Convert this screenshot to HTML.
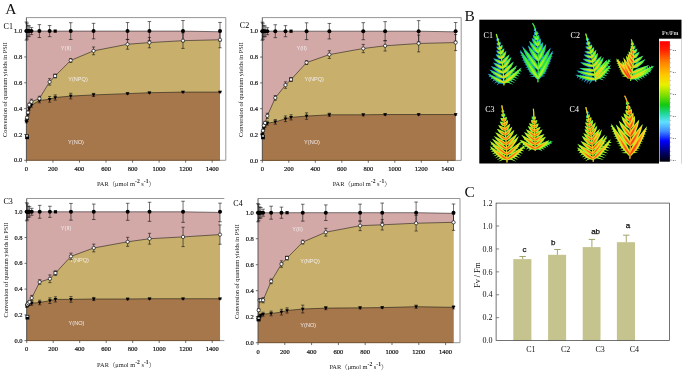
<!DOCTYPE html>
<html><head><meta charset="utf-8"><title>Figure</title>
<style>html,body{margin:0;padding:0;background:#fff}svg{display:block}</style></head>
<body>
<svg width="685" height="375" viewBox="0 0 685 375">
<rect width="685" height="375" fill="#fff"/>
<polygon points="26.4,160.3 26.4,31.1 27.06,31.1 27.99,31.1 29.19,31.1 31.44,31.1 39.4,31.1 49.62,31.1 55.2,31.1 70.72,31.1 93.55,31.1 127.52,31.1 149.41,31.1 182.99,31.1 220.01,31.75 220.01,160.3" fill="#d3a9a8"/>
<polygon points="26.4,160.3 26.4,120.25 27.06,117.66 27.99,112.5 29.19,104.74 31.44,101.77 39.4,98.54 49.62,81.88 55.2,75.93 70.72,60.43 93.55,50.87 127.52,44.28 149.41,42.6 182.99,40.66 220.01,39.76 220.01,160.3" fill="#c8b06c"/>
<polygon points="26.4,160.3 26.4,121.54 27.06,120.25 27.99,113.79 29.19,108.62 31.44,105.26 39.4,100.48 49.62,99.32 55.2,97.51 70.72,96.09 93.55,94.92 127.52,93.63 149.41,92.73 182.99,92.08 220.01,92.08 220.01,160.3" fill="#a5774b"/>
<path d="M26.4 17.6H225.8V160.3H220.01" fill="none" stroke="#8a8a8a" stroke-width="0.9"/>
<path d="M26.4 17.6V160.3" stroke="#4a4a4a" stroke-width="0.9" fill="none"/>
<path d="M26.4 160.3H220.01" stroke="#6b4a2c" stroke-width="0.9" fill="none"/>
<path d="M24.2 160.3H26.4M24.2 134.46H26.4M24.2 108.62H26.4M24.2 82.78H26.4M24.2 56.94H26.4M24.2 31.1H26.4M26.4 160.3V162.7M52.94 160.3V162.7M79.48 160.3V162.7M106.02 160.3V162.7M132.56 160.3V162.7M159.1 160.3V162.7M185.64 160.3V162.7M212.18 160.3V162.7" stroke="#333" stroke-width="0.7" fill="none"/>
<g font-family='"Liberation Serif","Noto Serif CJK SC",serif' font-size="6.5" fill="#1a1a1a" stroke="#1a1a1a" stroke-width="0.22">
<text x="22.2" y="162.4" text-anchor="end">0.0</text>
<text x="22.2" y="136.56" text-anchor="end">0.2</text>
<text x="22.2" y="110.72" text-anchor="end">0.4</text>
<text x="22.2" y="84.88" text-anchor="end">0.6</text>
<text x="22.2" y="59.04" text-anchor="end">0.8</text>
<text x="22.2" y="33.2" text-anchor="end">1.0</text>
<text x="26.4" y="170.9" text-anchor="middle">0</text>
<text x="52.94" y="170.9" text-anchor="middle">200</text>
<text x="79.48" y="170.9" text-anchor="middle">400</text>
<text x="106.02" y="170.9" text-anchor="middle">600</text>
<text x="132.56" y="170.9" text-anchor="middle">800</text>
<text x="159.1" y="170.9" text-anchor="middle">1000</text>
<text x="185.64" y="170.9" text-anchor="middle">1200</text>
<text x="212.18" y="170.9" text-anchor="middle">1400</text>
</g>
<text x="125.89" y="186.3" text-anchor="middle" font-family='"Liberation Serif","Noto Serif CJK SC",serif' font-size="6.4" fill="#222">PAR（μmol m<tspan dy="-3.1" font-size="5.6" font-weight="bold">-2</tspan><tspan dy="3.1"> s</tspan><tspan dy="-3.1" font-size="5.6" font-weight="bold">-1</tspan><tspan dy="3.1">）</tspan></text>
<text transform="translate(7.3,89.5) rotate(-90)" text-anchor="middle" font-family='"Liberation Serif","Noto Serif CJK SC",serif' font-size="6.28" fill="#111">Conversion of quantum yields in PSII</text>
<g font-family='"Liberation Sans","Noto Sans CJK SC",sans-serif' font-size="5.6" fill="#f4ecec" text-anchor="middle">
<text x="66.1" y="49.8">Y(II)</text>
<text x="78" y="81.3">Y(NPQ)</text>
<text x="76" y="144.3">Y(NO)</text>
</g>
<polyline points="26.4,31.1 27.06,31.1 27.99,31.1 29.19,31.1 31.44,31.1 39.4,31.1 49.62,31.1 55.2,31.1 70.72,31.1 93.55,31.1 127.52,31.1 149.41,31.1 182.99,31.1 220.01,31.75" fill="none" stroke="#111" stroke-width="0.55"/>
<polyline points="26.4,120.25 27.06,117.66 27.99,112.5 29.19,104.74 31.44,101.77 39.4,98.54 49.62,81.88 55.2,75.93 70.72,60.43 93.55,50.87 127.52,44.28 149.41,42.6 182.99,40.66 220.01,39.76" fill="none" stroke="#111" stroke-width="0.55"/>
<polyline points="26.4,121.54 27.06,120.25 27.99,113.79 29.19,108.62 31.44,105.26 39.4,100.48 49.62,99.32 55.2,97.51 70.72,96.09 93.55,94.92 127.52,93.63 149.41,92.73 182.99,92.08 220.01,92.08" fill="none" stroke="#111" stroke-width="0.55"/>
<path d="M26.4 22.06V40.14M24.6 22.06H28.2M24.6 40.14H28.2M27.06 23.09V39.11M25.26 23.09H28.86M25.26 39.11H28.86M27.99 25.29V36.91M26.19 25.29H29.79M26.19 36.91H29.79M29.19 25.93V36.27M27.39 25.93H30.99M27.39 36.27H30.99M31.44 27.61V34.59M29.64 27.61H33.24M29.64 34.59H33.24M39.4 24.64V37.56M37.6 24.64H41.2M37.6 37.56H41.2M49.62 25.54V36.66M47.82 25.54H51.42M47.82 36.66H51.42M70.72 22.7V39.5M68.92 22.7H72.52M68.92 39.5H72.52M93.55 23.35V38.85M91.75 23.35H95.35M91.75 38.85H95.35M127.52 22.57V39.63M125.72 22.57H129.32M125.72 39.63H129.32M149.41 21.54V40.66M147.61 21.54H151.21M147.61 40.66H151.21M182.99 20.51V41.69M181.19 20.51H184.79M181.19 41.69H184.79M220.01 22.44V41.05M218.21 22.44H221.81M218.21 41.05H221.81M26.4 118.96V121.54M24.8 118.96H28M24.8 121.54H28M27.06 116.37V118.96M25.46 116.37H28.66M25.46 118.96H28.66M27.99 110.95V114.05M26.39 110.95H29.59M26.39 114.05H29.59M29.19 103.19V106.29M27.59 103.19H30.79M27.59 106.29H30.79M31.44 99.19V104.36M29.84 99.19H33.04M29.84 104.36H33.04M39.4 96.22V100.87M37.8 96.22H41M37.8 100.87H41M49.62 78.65V85.11M48.02 78.65H51.22M48.02 85.11H51.22M55.2 73.99V77.87M53.6 73.99H56.8M53.6 77.87H56.8M70.72 58.49V62.37M69.12 58.49H72.32M69.12 62.37H72.32M93.55 46.99V54.74M91.95 46.99H95.15M91.95 54.74H95.15M127.52 39.37V49.19M125.92 39.37H129.12M125.92 49.19H129.12M149.41 37.43V47.77M147.81 37.43H151.01M147.81 47.77H151.01M182.99 32.91V48.41M181.39 32.91H184.59M181.39 48.41H184.59M220.01 31.75V47.77M218.41 31.75H221.61M218.41 47.77H221.61M26.4 120.25V122.83M24.8 120.25H28M24.8 122.83H28M27.06 118.96V121.54M25.46 118.96H28.66M25.46 121.54H28.66M27.99 112.5V115.08M26.39 112.5H29.59M26.39 115.08H29.59M29.19 107.07V110.17M27.59 107.07H30.79M27.59 110.17H30.79M31.44 103.32V107.2M29.84 103.32H33.04M29.84 107.2H33.04M39.4 98.15V102.81M37.8 98.15H41M37.8 102.81H41M49.62 96.48V102.16M48.02 96.48H51.22M48.02 102.16H51.22M55.2 94.92V100.09M53.6 94.92H56.8M53.6 100.09H56.8M70.72 93.25V98.93M69.12 93.25H72.32M69.12 98.93H72.32M93.55 93.37V96.48M91.95 93.37H95.15M91.95 96.48H95.15M127.52 92.86V94.41M125.92 92.86H129.12M125.92 94.41H129.12M149.41 92.08V93.37M147.81 92.08H151.01M147.81 93.37H151.01M182.99 91.44V92.73M181.39 91.44H184.59M181.39 92.73H184.59M220.01 91.44V92.73M218.41 91.44H221.61M218.41 92.73H221.61" stroke="#111" stroke-width="0.6" fill="none"/>
<circle cx="26.4" cy="31.1" r="2.0" fill="#000"/>
<circle cx="27.06" cy="31.1" r="2.0" fill="#000"/>
<circle cx="27.99" cy="31.1" r="2.0" fill="#000"/>
<circle cx="29.19" cy="31.1" r="2.0" fill="#000"/>
<circle cx="31.44" cy="31.1" r="2.0" fill="#000"/>
<circle cx="39.4" cy="31.1" r="2.0" fill="#000"/>
<circle cx="49.62" cy="31.1" r="2.0" fill="#000"/>
<rect x="53.6" y="29.5" width="3.2" height="3.2" fill="#000"/>
<circle cx="70.72" cy="31.1" r="2.0" fill="#000"/>
<circle cx="93.55" cy="31.1" r="2.0" fill="#000"/>
<circle cx="127.52" cy="31.1" r="2.0" fill="#000"/>
<circle cx="149.41" cy="31.1" r="2.0" fill="#000"/>
<circle cx="182.99" cy="31.1" r="2.0" fill="#000"/>
<circle cx="220.01" cy="31.1" r="2.0" fill="#000"/>
<path d="M24.5 120.24H28.3L26.4 123.44Z" fill="#000"/>
<path d="M25.16 118.95H28.96L27.06 122.15Z" fill="#000"/>
<path d="M26.09 112.49H29.89L27.99 115.69Z" fill="#000"/>
<path d="M27.29 107.32H31.09L29.19 110.52Z" fill="#000"/>
<path d="M29.54 103.96H33.34L31.44 107.16Z" fill="#000"/>
<path d="M37.5 99.18H41.3L39.4 102.38Z" fill="#000"/>
<path d="M47.72 98.02H51.52L49.62 101.22Z" fill="#000"/>
<path d="M53.3 96.21H57.1L55.2 99.41Z" fill="#000"/>
<path d="M68.82 94.79H72.62L70.72 97.99Z" fill="#000"/>
<path d="M91.65 93.62H95.45L93.55 96.82Z" fill="#000"/>
<path d="M125.62 92.33H129.42L127.52 95.53Z" fill="#000"/>
<path d="M147.51 91.43H151.31L149.41 94.63Z" fill="#000"/>
<path d="M181.09 90.78H184.89L182.99 93.98Z" fill="#000"/>
<path d="M218.11 90.78H221.91L220.01 93.98Z" fill="#000"/>
<circle cx="27.06" cy="117.66" r="1.65" fill="#fff" stroke="#111" stroke-width="0.7"/>
<circle cx="27.99" cy="112.5" r="1.65" fill="#fff" stroke="#111" stroke-width="0.7"/>
<circle cx="29.19" cy="104.74" r="1.65" fill="#fff" stroke="#111" stroke-width="0.7"/>
<circle cx="31.44" cy="101.77" r="1.65" fill="#fff" stroke="#111" stroke-width="0.7"/>
<circle cx="39.4" cy="98.54" r="1.65" fill="#fff" stroke="#111" stroke-width="0.7"/>
<circle cx="49.62" cy="81.88" r="1.65" fill="#fff" stroke="#111" stroke-width="0.7"/>
<rect x="53.7" y="74.43" width="3" height="3" fill="#fff" stroke="#111" stroke-width="0.7"/>
<circle cx="70.72" cy="60.43" r="1.65" fill="#fff" stroke="#111" stroke-width="0.7"/>
<circle cx="93.55" cy="50.87" r="1.65" fill="#fff" stroke="#111" stroke-width="0.7"/>
<circle cx="127.52" cy="44.28" r="1.65" fill="#fff" stroke="#111" stroke-width="0.7"/>
<circle cx="149.41" cy="42.6" r="1.65" fill="#fff" stroke="#111" stroke-width="0.7"/>
<circle cx="182.99" cy="40.66" r="1.65" fill="#fff" stroke="#111" stroke-width="0.7"/>
<circle cx="220.01" cy="39.76" r="1.65" fill="#fff" stroke="#111" stroke-width="0.7"/>
<rect x="25.2" y="134.54" width="3.8" height="4.6" fill="#000"/><rect x="26" y="135.24" width="2.2" height="1.3" fill="#fff"/>
<text x="3.6" y="29.4" font-family='"Liberation Serif","Noto Serif CJK SC",serif' font-size="8" fill="#000">C1</text>
<polygon points="262.3,160.4 262.3,31.2 262.96,31.2 263.89,31.2 265.08,31.2 267.34,31.2 275.29,31.2 285.49,31.2 291.05,31.2 306.56,31.2 329.35,31.2 363.26,31.2 385.13,31.2 418.65,31.2 455.62,31.85 455.62,160.4" fill="#d3a9a8"/>
<polygon points="262.3,160.4 262.3,133.27 262.96,130.68 263.89,125.52 265.08,122.93 267.34,115.83 275.29,97.87 285.49,85.08 291.05,79.52 306.56,62.6 329.35,54.59 363.26,48.51 385.13,45.8 418.65,43.47 455.62,42.57 455.62,160.4" fill="#c8b06c"/>
<polygon points="262.3,160.4 262.3,134.56 262.96,131.98 263.89,128.1 265.08,125.52 267.34,123.19 275.29,121.9 285.49,118.8 291.05,117.38 306.56,116.08 329.35,114.79 363.26,114.79 385.13,114.53 418.65,114.53 455.62,114.53 455.62,160.4" fill="#a5774b"/>
<path d="M262.3 17.6H461.2V160.4H455.62" fill="none" stroke="#8a8a8a" stroke-width="0.9"/>
<path d="M262.3 17.6V160.4" stroke="#4a4a4a" stroke-width="0.9" fill="none"/>
<path d="M262.3 160.4H455.62" stroke="#6b4a2c" stroke-width="0.9" fill="none"/>
<path d="M260.1 160.4H262.3M260.1 134.56H262.3M260.1 108.72H262.3M260.1 82.88H262.3M260.1 57.04H262.3M260.1 31.2H262.3M262.3 160.4V162.8M288.8 160.4V162.8M315.3 160.4V162.8M341.8 160.4V162.8M368.3 160.4V162.8M394.8 160.4V162.8M421.3 160.4V162.8M447.8 160.4V162.8" stroke="#333" stroke-width="0.7" fill="none"/>
<g font-family='"Liberation Serif","Noto Serif CJK SC",serif' font-size="6.5" fill="#1a1a1a" stroke="#1a1a1a" stroke-width="0.22">
<text x="258.1" y="162.5" text-anchor="end">0.0</text>
<text x="258.1" y="136.66" text-anchor="end">0.2</text>
<text x="258.1" y="110.82" text-anchor="end">0.4</text>
<text x="258.1" y="84.98" text-anchor="end">0.6</text>
<text x="258.1" y="59.14" text-anchor="end">0.8</text>
<text x="258.1" y="33.3" text-anchor="end">1.0</text>
<text x="262.3" y="171" text-anchor="middle">0</text>
<text x="288.8" y="171" text-anchor="middle">200</text>
<text x="315.3" y="171" text-anchor="middle">400</text>
<text x="341.8" y="171" text-anchor="middle">600</text>
<text x="368.3" y="171" text-anchor="middle">800</text>
<text x="394.8" y="171" text-anchor="middle">1000</text>
<text x="421.3" y="171" text-anchor="middle">1200</text>
<text x="447.8" y="171" text-anchor="middle">1400</text>
</g>
<text x="361.65" y="186.4" text-anchor="middle" font-family='"Liberation Serif","Noto Serif CJK SC",serif' font-size="6.4" fill="#222">PAR（μmol m<tspan dy="-3.1" font-size="5.6" font-weight="bold">-2</tspan><tspan dy="3.1"> s</tspan><tspan dy="-3.1" font-size="5.6" font-weight="bold">-1</tspan><tspan dy="3.1">）</tspan></text>
<text transform="translate(243.2,89.6) rotate(-90)" text-anchor="middle" font-family='"Liberation Serif","Noto Serif CJK SC",serif' font-size="6.28" fill="#111">Conversion of quantum yields in PSII</text>
<g font-family='"Liberation Sans","Noto Sans CJK SC",sans-serif' font-size="5.6" fill="#f4ecec" text-anchor="middle">
<text x="301.7" y="49.9">Y(II)</text>
<text x="314.2" y="81.3">Y(NPQ)</text>
<text x="312" y="144.3">Y(NO)</text>
</g>
<polyline points="262.3,31.2 262.96,31.2 263.89,31.2 265.08,31.2 267.34,31.2 275.29,31.2 285.49,31.2 291.05,31.2 306.56,31.2 329.35,31.2 363.26,31.2 385.13,31.2 418.65,31.2 455.62,31.85" fill="none" stroke="#111" stroke-width="0.55"/>
<polyline points="262.3,133.27 262.96,130.68 263.89,125.52 265.08,122.93 267.34,115.83 275.29,97.87 285.49,85.08 291.05,79.52 306.56,62.6 329.35,54.59 363.26,48.51 385.13,45.8 418.65,43.47 455.62,42.57" fill="none" stroke="#111" stroke-width="0.55"/>
<polyline points="262.3,134.56 262.96,131.98 263.89,128.1 265.08,125.52 267.34,123.19 275.29,121.9 285.49,118.8 291.05,117.38 306.56,116.08 329.35,114.79 363.26,114.79 385.13,114.53 418.65,114.53 455.62,114.53" fill="none" stroke="#111" stroke-width="0.55"/>
<path d="M262.3 22.16V40.24M260.5 22.16H264.1M260.5 40.24H264.1M262.96 23.19V39.21M261.16 23.19H264.76M261.16 39.21H264.76M263.89 25.39V37.01M262.09 25.39H265.69M262.09 37.01H265.69M265.08 26.03V36.37M263.28 26.03H266.88M263.28 36.37H266.88M267.34 27.71V34.69M265.54 27.71H269.14M265.54 34.69H269.14M275.29 24.74V37.66M273.49 24.74H277.09M273.49 37.66H277.09M285.49 25.64V36.76M283.69 25.64H287.29M283.69 36.76H287.29M306.56 22.8V39.6M304.75 22.8H308.36M304.75 39.6H308.36M329.35 23.45V38.95M327.55 23.45H331.15M327.55 38.95H331.15M363.26 22.67V39.73M361.46 22.67H365.06M361.46 39.73H365.06M385.13 21.64V40.76M383.33 21.64H386.93M383.33 40.76H386.93M418.65 20.61V41.79M416.85 20.61H420.45M416.85 41.79H420.45M455.62 22.54V41.15M453.82 22.54H457.42M453.82 41.15H457.42M262.3 131.98V134.56M260.7 131.98H263.9M260.7 134.56H263.9M262.96 129.39V131.98M261.36 129.39H264.56M261.36 131.98H264.56M263.89 123.97V127.07M262.29 123.97H265.49M262.29 127.07H265.49M265.08 121.38V124.48M263.48 121.38H266.68M263.48 124.48H266.68M267.34 113.24V118.41M265.74 113.24H268.94M265.74 118.41H268.94M275.29 95.54V100.19M273.69 95.54H276.89M273.69 100.19H276.89M285.49 81.85V88.31M283.89 81.85H287.09M283.89 88.31H287.09M291.05 77.58V81.46M289.45 77.58H292.65M289.45 81.46H292.65M306.56 60.66V64.53M304.95 60.66H308.16M304.95 64.53H308.16M329.35 50.71V58.46M327.75 50.71H330.95M327.75 58.46H330.95M363.26 44.38V52.65M361.66 44.38H364.87M361.66 52.65H364.87M385.13 40.63V50.97M383.53 40.63H386.73M383.53 50.97H386.73M418.65 35.08V51.87M417.05 35.08H420.25M417.05 51.87H420.25M455.62 34.56V50.58M454.02 34.56H457.22M454.02 50.58H457.22M262.3 133.27V135.85M260.7 133.27H263.9M260.7 135.85H263.9M262.96 130.68V133.27M261.36 130.68H264.56M261.36 133.27H264.56M263.89 126.81V129.39M262.29 126.81H265.49M262.29 129.39H265.49M265.08 123.97V127.07M263.48 123.97H266.68M263.48 127.07H266.68M267.34 121.25V125.13M265.74 121.25H268.94M265.74 125.13H268.94M275.29 119.57V124.22M273.69 119.57H276.89M273.69 124.22H276.89M285.49 115.96V121.64M283.89 115.96H287.09M283.89 121.64H287.09M291.05 114.79V119.96M289.45 114.79H292.65M289.45 119.96H292.65M306.56 112.85V119.31M304.95 112.85H308.16M304.95 119.31H308.16M329.35 113.24V116.34M327.75 113.24H330.95M327.75 116.34H330.95M363.26 113.76V115.83M361.66 113.76H364.87M361.66 115.83H364.87M385.13 113.76V115.31M383.53 113.76H386.73M383.53 115.31H386.73M418.65 113.76V115.31M417.05 113.76H420.25M417.05 115.31H420.25M455.62 113.76V115.31M454.02 113.76H457.22M454.02 115.31H457.22" stroke="#111" stroke-width="0.6" fill="none"/>
<circle cx="262.3" cy="31.2" r="2.0" fill="#000"/>
<circle cx="262.96" cy="31.2" r="2.0" fill="#000"/>
<circle cx="263.89" cy="31.2" r="2.0" fill="#000"/>
<circle cx="265.08" cy="31.2" r="2.0" fill="#000"/>
<circle cx="267.34" cy="31.2" r="2.0" fill="#000"/>
<circle cx="275.29" cy="31.2" r="2.0" fill="#000"/>
<circle cx="285.49" cy="31.2" r="2.0" fill="#000"/>
<rect x="289.45" y="29.6" width="3.2" height="3.2" fill="#000"/>
<circle cx="306.56" cy="31.2" r="2.0" fill="#000"/>
<circle cx="329.35" cy="31.2" r="2.0" fill="#000"/>
<circle cx="363.26" cy="31.2" r="2.0" fill="#000"/>
<circle cx="385.13" cy="31.2" r="2.0" fill="#000"/>
<circle cx="418.65" cy="31.2" r="2.0" fill="#000"/>
<circle cx="455.62" cy="31.2" r="2.0" fill="#000"/>
<path d="M260.4 133.26H264.2L262.3 136.46Z" fill="#000"/>
<path d="M261.06 130.68H264.86L262.96 133.88Z" fill="#000"/>
<path d="M261.99 126.8H265.79L263.89 130Z" fill="#000"/>
<path d="M263.18 124.22H266.98L265.08 127.42Z" fill="#000"/>
<path d="M265.44 121.89H269.24L267.34 125.09Z" fill="#000"/>
<path d="M273.39 120.6H277.19L275.29 123.8Z" fill="#000"/>
<path d="M283.59 117.5H287.39L285.49 120.7Z" fill="#000"/>
<path d="M289.15 116.08H292.95L291.05 119.28Z" fill="#000"/>
<path d="M304.66 114.78H308.45L306.56 117.98Z" fill="#000"/>
<path d="M327.45 113.49H331.25L329.35 116.69Z" fill="#000"/>
<path d="M361.37 113.49H365.16L363.26 116.69Z" fill="#000"/>
<path d="M383.23 113.23H387.03L385.13 116.43Z" fill="#000"/>
<path d="M416.75 113.23H420.55L418.65 116.43Z" fill="#000"/>
<path d="M453.72 113.23H457.52L455.62 116.43Z" fill="#000"/>
<circle cx="262.96" cy="130.68" r="1.65" fill="#fff" stroke="#111" stroke-width="0.7"/>
<circle cx="263.89" cy="125.52" r="1.65" fill="#fff" stroke="#111" stroke-width="0.7"/>
<circle cx="265.08" cy="122.93" r="1.65" fill="#fff" stroke="#111" stroke-width="0.7"/>
<circle cx="267.34" cy="115.83" r="1.65" fill="#fff" stroke="#111" stroke-width="0.7"/>
<circle cx="275.29" cy="97.87" r="1.65" fill="#fff" stroke="#111" stroke-width="0.7"/>
<circle cx="285.49" cy="85.08" r="1.65" fill="#fff" stroke="#111" stroke-width="0.7"/>
<rect x="289.55" y="78.02" width="3" height="3" fill="#fff" stroke="#111" stroke-width="0.7"/>
<circle cx="306.56" cy="62.6" r="1.65" fill="#fff" stroke="#111" stroke-width="0.7"/>
<circle cx="329.35" cy="54.59" r="1.65" fill="#fff" stroke="#111" stroke-width="0.7"/>
<circle cx="363.26" cy="48.51" r="1.65" fill="#fff" stroke="#111" stroke-width="0.7"/>
<circle cx="385.13" cy="45.8" r="1.65" fill="#fff" stroke="#111" stroke-width="0.7"/>
<circle cx="418.65" cy="43.47" r="1.65" fill="#fff" stroke="#111" stroke-width="0.7"/>
<circle cx="455.62" cy="42.57" r="1.65" fill="#fff" stroke="#111" stroke-width="0.7"/>
<rect x="261.1" y="134.64" width="3.8" height="4.6" fill="#000"/><rect x="261.9" y="135.34" width="2.2" height="1.3" fill="#fff"/>
<text x="239.8" y="27.6" font-family='"Liberation Serif","Noto Serif CJK SC",serif' font-size="8" fill="#000">C2</text>
<polygon points="26.7,340.6 26.7,211.8 27.36,211.8 28.29,211.8 29.48,211.8 31.73,211.8 39.69,211.8 49.89,211.8 55.45,211.8 70.95,211.8 93.75,211.8 127.67,211.8 149.53,211.8 183.05,211.8 220.02,212.44 220.02,340.6" fill="#d3a9a8"/>
<polygon points="26.7,340.6 26.7,305.82 27.36,304.54 28.29,303.25 29.48,301.96 31.73,297.97 39.69,282 49.89,278.78 55.45,273.11 70.95,256.36 93.75,247.99 127.67,241.81 149.53,238.72 183.05,236.92 220.02,234.6 220.02,340.6" fill="#c8b06c"/>
<polygon points="26.7,340.6 26.7,305.82 27.36,305.18 28.29,304.54 29.48,303.89 31.73,303.25 39.69,302.48 49.89,300.67 55.45,299.38 70.95,299.38 93.75,299 127.67,299 149.53,298.74 183.05,298.74 220.02,298.74 220.02,340.6" fill="#a5774b"/>
<path d="M26.7 198.5H224.3" fill="none" stroke="#8a8a8a" stroke-width="0.9"/>
<path d="M220.02 340.6H224.3" fill="none" stroke="#8a8a8a" stroke-width="0.9"/>
<path d="M26.7 198.5V340.6" stroke="#4a4a4a" stroke-width="0.9" fill="none"/>
<path d="M26.7 340.6H220.02" stroke="#6b4a2c" stroke-width="0.9" fill="none"/>
<path d="M24.5 340.6H26.7M24.5 314.84H26.7M24.5 289.08H26.7M24.5 263.32H26.7M24.5 237.56H26.7M24.5 211.8H26.7M26.7 340.6V343M53.2 340.6V343M79.7 340.6V343M106.2 340.6V343M132.7 340.6V343M159.2 340.6V343M185.7 340.6V343M212.2 340.6V343" stroke="#333" stroke-width="0.7" fill="none"/>
<g font-family='"Liberation Serif","Noto Serif CJK SC",serif' font-size="6.5" fill="#1a1a1a" stroke="#1a1a1a" stroke-width="0.22">
<text x="22.5" y="342.7" text-anchor="end">0.0</text>
<text x="22.5" y="316.94" text-anchor="end">0.2</text>
<text x="22.5" y="291.18" text-anchor="end">0.4</text>
<text x="22.5" y="265.42" text-anchor="end">0.6</text>
<text x="22.5" y="239.66" text-anchor="end">0.8</text>
<text x="22.5" y="213.9" text-anchor="end">1.0</text>
<text x="26.7" y="351.2" text-anchor="middle">0</text>
<text x="53.2" y="351.2" text-anchor="middle">200</text>
<text x="79.7" y="351.2" text-anchor="middle">400</text>
<text x="106.2" y="351.2" text-anchor="middle">600</text>
<text x="132.7" y="351.2" text-anchor="middle">800</text>
<text x="159.2" y="351.2" text-anchor="middle">1000</text>
<text x="185.7" y="351.2" text-anchor="middle">1200</text>
<text x="212.2" y="351.2" text-anchor="middle">1400</text>
</g>
<text x="126.05" y="366.6" text-anchor="middle" font-family='"Liberation Serif","Noto Serif CJK SC",serif' font-size="6.4" fill="#222">PAR（μmol m<tspan dy="-3.1" font-size="5.6" font-weight="bold">-2</tspan><tspan dy="3.1"> s</tspan><tspan dy="-3.1" font-size="5.6" font-weight="bold">-1</tspan><tspan dy="3.1">）</tspan></text>
<text transform="translate(7.6,270) rotate(-90)" text-anchor="middle" font-family='"Liberation Serif","Noto Serif CJK SC",serif' font-size="6.28" fill="#111">Conversion of quantum yields in PSII</text>
<g font-family='"Liberation Sans","Noto Sans CJK SC",sans-serif' font-size="5.6" fill="#f4ecec" text-anchor="middle">
<text x="66.1" y="230.1">Y(II)</text>
<text x="79.2" y="261.9">Y(NPQ)</text>
<text x="76.5" y="325">Y(NO)</text>
</g>
<polyline points="26.7,211.8 27.36,211.8 28.29,211.8 29.48,211.8 31.73,211.8 39.69,211.8 49.89,211.8 55.45,211.8 70.95,211.8 93.75,211.8 127.67,211.8 149.53,211.8 183.05,211.8 220.02,212.44" fill="none" stroke="#111" stroke-width="0.55"/>
<polyline points="26.7,305.82 27.36,304.54 28.29,303.25 29.48,301.96 31.73,297.97 39.69,282 49.89,278.78 55.45,273.11 70.95,256.36 93.75,247.99 127.67,241.81 149.53,238.72 183.05,236.92 220.02,234.6" fill="none" stroke="#111" stroke-width="0.55"/>
<polyline points="26.7,305.82 27.36,305.18 28.29,304.54 29.48,303.89 31.73,303.25 39.69,302.48 49.89,300.67 55.45,299.38 70.95,299.38 93.75,299 127.67,299 149.53,298.74 183.05,298.74 220.02,298.74" fill="none" stroke="#111" stroke-width="0.55"/>
<path d="M26.7 202.78V220.82M24.9 202.78H28.5M24.9 220.82H28.5M27.36 203.81V219.79M25.56 203.81H29.16M25.56 219.79H29.16M28.29 206V217.6M26.49 206H30.09M26.49 217.6H30.09M29.48 206.65V216.95M27.68 206.65H31.28M27.68 216.95H31.28M31.73 208.32V215.28M29.93 208.32H33.53M29.93 215.28H33.53M39.69 205.36V218.24M37.89 205.36H41.48M37.89 218.24H41.48M49.89 206.26V217.34M48.09 206.26H51.69M48.09 217.34H51.69M70.95 203.43V220.17M69.16 203.43H72.75M69.16 220.17H72.75M93.75 204.07V219.53M91.95 204.07H95.55M91.95 219.53H95.55M127.67 203.3V220.3M125.87 203.3H129.47M125.87 220.3H129.47M149.53 202.27V221.33M147.73 202.27H151.33M147.73 221.33H151.33M183.05 201.24V222.36M181.25 201.24H184.85M181.25 222.36H184.85M220.02 203.17V221.72M218.22 203.17H221.82M218.22 221.72H221.82M26.7 304.54V307.11M25.1 304.54H28.3M25.1 307.11H28.3M27.36 303.25V305.82M25.76 303.25H28.96M25.76 305.82H28.96M28.29 301.7V304.79M26.69 301.7H29.89M26.69 304.79H29.89M29.48 300.41V303.51M27.88 300.41H31.08M27.88 303.51H31.08M31.73 295.39V300.54M30.13 295.39H33.34M30.13 300.54H33.34M39.69 279.68V284.31M38.09 279.68H41.29M38.09 284.31H41.29M49.89 274.91V282.64M48.29 274.91H51.49M48.29 282.64H51.49M55.45 270.79V275.43M53.85 270.79H57.05M53.85 275.43H57.05M70.95 253.14V259.58M69.36 253.14H72.55M69.36 259.58H72.55M93.75 244.13V251.86M92.15 244.13H95.34M92.15 251.86H95.34M127.67 237.3V246.32M126.07 237.3H129.27M126.07 246.32H129.27M149.53 233.31V244.13M147.93 233.31H151.13M147.93 244.13H151.13M183.05 227.26V246.58M181.45 227.26H184.65M181.45 246.58H184.65M220.02 224.94V244.26M218.42 224.94H221.62M218.42 244.26H221.62M26.7 304.54V307.11M25.1 304.54H28.3M25.1 307.11H28.3M27.36 303.89V306.47M25.76 303.89H28.96M25.76 306.47H28.96M28.29 303.25V305.82M26.69 303.25H29.89M26.69 305.82H29.89M29.48 302.35V305.44M27.88 302.35H31.08M27.88 305.44H31.08M31.73 301.32V305.18M30.13 301.32H33.34M30.13 305.18H33.34M39.69 300.16V304.79M38.09 300.16H41.29M38.09 304.79H41.29M49.89 297.84V303.51M48.29 297.84H51.49M48.29 303.51H51.49M55.45 296.81V301.96M53.85 296.81H57.05M53.85 301.96H57.05M70.95 296.55V302.22M69.36 296.55H72.55M69.36 302.22H72.55M93.75 297.45V300.54M92.15 297.45H95.34M92.15 300.54H95.34M127.67 298.22V299.77M126.07 298.22H129.27M126.07 299.77H129.27M149.53 298.1V299.38M147.93 298.1H151.13M147.93 299.38H151.13M183.05 298.1V299.38M181.45 298.1H184.65M181.45 299.38H184.65M220.02 298.1V299.38M218.42 298.1H221.62M218.42 299.38H221.62" stroke="#111" stroke-width="0.6" fill="none"/>
<circle cx="26.7" cy="211.8" r="2.0" fill="#000"/>
<circle cx="27.36" cy="211.8" r="2.0" fill="#000"/>
<circle cx="28.29" cy="211.8" r="2.0" fill="#000"/>
<circle cx="29.48" cy="211.8" r="2.0" fill="#000"/>
<circle cx="31.73" cy="211.8" r="2.0" fill="#000"/>
<circle cx="39.69" cy="211.8" r="2.0" fill="#000"/>
<circle cx="49.89" cy="211.8" r="2.0" fill="#000"/>
<rect x="53.85" y="210.2" width="3.2" height="3.2" fill="#000"/>
<circle cx="70.95" cy="211.8" r="2.0" fill="#000"/>
<circle cx="93.75" cy="211.8" r="2.0" fill="#000"/>
<circle cx="127.67" cy="211.8" r="2.0" fill="#000"/>
<circle cx="149.53" cy="211.8" r="2.0" fill="#000"/>
<circle cx="183.05" cy="211.8" r="2.0" fill="#000"/>
<circle cx="220.02" cy="211.8" r="2.0" fill="#000"/>
<path d="M24.8 304.52H28.6L26.7 307.72Z" fill="#000"/>
<path d="M25.46 303.88H29.26L27.36 307.08Z" fill="#000"/>
<path d="M26.39 303.24H30.19L28.29 306.44Z" fill="#000"/>
<path d="M27.58 302.59H31.38L29.48 305.79Z" fill="#000"/>
<path d="M29.84 301.95H33.63L31.73 305.15Z" fill="#000"/>
<path d="M37.79 301.18H41.59L39.69 304.38Z" fill="#000"/>
<path d="M47.99 299.37H51.79L49.89 302.57Z" fill="#000"/>
<path d="M53.55 298.08H57.35L55.45 301.28Z" fill="#000"/>
<path d="M69.05 298.08H72.86L70.95 301.28Z" fill="#000"/>
<path d="M91.84 297.7H95.65L93.75 300.9Z" fill="#000"/>
<path d="M125.77 297.7H129.56L127.67 300.9Z" fill="#000"/>
<path d="M147.63 297.44H151.43L149.53 300.64Z" fill="#000"/>
<path d="M181.15 297.44H184.95L183.05 300.64Z" fill="#000"/>
<path d="M218.12 297.44H221.92L220.02 300.64Z" fill="#000"/>
<circle cx="27.36" cy="304.54" r="1.65" fill="#fff" stroke="#111" stroke-width="0.7"/>
<circle cx="28.29" cy="303.25" r="1.65" fill="#fff" stroke="#111" stroke-width="0.7"/>
<circle cx="29.48" cy="301.96" r="1.65" fill="#fff" stroke="#111" stroke-width="0.7"/>
<circle cx="31.73" cy="297.97" r="1.65" fill="#fff" stroke="#111" stroke-width="0.7"/>
<circle cx="39.69" cy="282" r="1.65" fill="#fff" stroke="#111" stroke-width="0.7"/>
<circle cx="49.89" cy="278.78" r="1.65" fill="#fff" stroke="#111" stroke-width="0.7"/>
<rect x="53.95" y="271.61" width="3" height="3" fill="#fff" stroke="#111" stroke-width="0.7"/>
<circle cx="70.95" cy="256.36" r="1.65" fill="#fff" stroke="#111" stroke-width="0.7"/>
<circle cx="93.75" cy="247.99" r="1.65" fill="#fff" stroke="#111" stroke-width="0.7"/>
<circle cx="127.67" cy="241.81" r="1.65" fill="#fff" stroke="#111" stroke-width="0.7"/>
<circle cx="149.53" cy="238.72" r="1.65" fill="#fff" stroke="#111" stroke-width="0.7"/>
<circle cx="183.05" cy="236.92" r="1.65" fill="#fff" stroke="#111" stroke-width="0.7"/>
<circle cx="220.02" cy="234.6" r="1.65" fill="#fff" stroke="#111" stroke-width="0.7"/>
<rect x="25.5" y="314.92" width="3.8" height="4.6" fill="#000"/><rect x="26.3" y="315.62" width="2.2" height="1.3" fill="#fff"/>
<text x="3.4" y="203.5" font-family='"Liberation Serif","Noto Serif CJK SC",serif' font-size="8" fill="#000">C3</text>
<polygon points="258,342.7 258,212.7 258.67,212.7 259.61,212.7 260.81,212.7 263.09,212.7 271.13,212.7 281.45,212.7 287.08,212.7 302.76,212.7 325.8,212.7 360.11,212.7 382.22,212.7 416.12,212.7 453.51,213.35 453.51,342.7" fill="#d3a9a8"/>
<polygon points="258,342.7 258,318 258.67,310.2 259.61,300.19 260.81,300.19 263.09,300.19 271.13,281.34 281.45,264.05 287.08,258.07 302.76,242.08 325.8,232.2 360.11,225.7 382.22,224.79 416.12,223.23 453.51,222.32 453.51,342.7" fill="#c8b06c"/>
<polygon points="258,342.7 258,319.3 258.67,318 259.61,316.7 260.81,315.4 263.09,314.23 271.13,313.45 281.45,312.15 287.08,310.46 302.76,309.03 325.8,308.12 360.11,307.86 382.22,307.6 416.12,306.69 453.51,307.34 453.51,342.7" fill="#a5774b"/>
<path d="M258 198.5H460V342.7H453.51" fill="none" stroke="#8a8a8a" stroke-width="0.9"/>
<path d="M258 198.5V342.7" stroke="#4a4a4a" stroke-width="0.9" fill="none"/>
<path d="M258 342.7H453.51" stroke="#6b4a2c" stroke-width="0.9" fill="none"/>
<path d="M255.8 342.7H258M255.8 316.7H258M255.8 290.7H258M255.8 264.7H258M255.8 238.7H258M255.8 212.7H258M258 342.7V345.1M284.8 342.7V345.1M311.6 342.7V345.1M338.4 342.7V345.1M365.2 342.7V345.1M392 342.7V345.1M418.8 342.7V345.1M445.6 342.7V345.1" stroke="#333" stroke-width="0.7" fill="none"/>
<g font-family='"Liberation Serif","Noto Serif CJK SC",serif' font-size="6.5" fill="#1a1a1a" stroke="#1a1a1a" stroke-width="0.22">
<text x="253.8" y="344.8" text-anchor="end">0.0</text>
<text x="253.8" y="318.8" text-anchor="end">0.2</text>
<text x="253.8" y="292.8" text-anchor="end">0.4</text>
<text x="253.8" y="266.8" text-anchor="end">0.6</text>
<text x="253.8" y="240.8" text-anchor="end">0.8</text>
<text x="253.8" y="214.8" text-anchor="end">1.0</text>
<text x="258" y="353.8" text-anchor="middle">0</text>
<text x="284.8" y="353.8" text-anchor="middle">200</text>
<text x="311.6" y="353.8" text-anchor="middle">400</text>
<text x="338.4" y="353.8" text-anchor="middle">600</text>
<text x="365.2" y="353.8" text-anchor="middle">800</text>
<text x="392" y="353.8" text-anchor="middle">1000</text>
<text x="418.8" y="353.8" text-anchor="middle">1200</text>
<text x="445.6" y="353.8" text-anchor="middle">1400</text>
</g>
<text x="358.4" y="369.3" text-anchor="middle" font-family='"Liberation Serif","Noto Serif CJK SC",serif' font-size="6.4" fill="#222">PAR（μmol m<tspan dy="-3.1" font-size="5.6" font-weight="bold">-2</tspan><tspan dy="3.1"> s</tspan><tspan dy="-3.1" font-size="5.6" font-weight="bold">-1</tspan><tspan dy="3.1">）</tspan></text>
<text transform="translate(238.9,271.5) rotate(-90)" text-anchor="middle" font-family='"Liberation Serif","Noto Serif CJK SC",serif' font-size="6.28" fill="#111">Conversion of quantum yields in PSII</text>
<g font-family='"Liberation Sans","Noto Sans CJK SC",sans-serif' font-size="5.6" fill="#f4ecec" text-anchor="middle">
<text x="297.5" y="230.7">Y(II)</text>
<text x="310" y="262.7">Y(NPQ)</text>
<text x="308.3" y="326.9">Y(NO)</text>
</g>
<polyline points="258,212.7 258.67,212.7 259.61,212.7 260.81,212.7 263.09,212.7 271.13,212.7 281.45,212.7 287.08,212.7 302.76,212.7 325.8,212.7 360.11,212.7 382.22,212.7 416.12,212.7 453.51,213.35" fill="none" stroke="#111" stroke-width="0.55"/>
<polyline points="258,318 258.67,310.2 259.61,300.19 260.81,300.19 263.09,300.19 271.13,281.34 281.45,264.05 287.08,258.07 302.76,242.08 325.8,232.2 360.11,225.7 382.22,224.79 416.12,223.23 453.51,222.32" fill="none" stroke="#111" stroke-width="0.55"/>
<polyline points="258,319.3 258.67,318 259.61,316.7 260.81,315.4 263.09,314.23 271.13,313.45 281.45,312.15 287.08,310.46 302.76,309.03 325.8,308.12 360.11,307.86 382.22,307.6 416.12,306.69 453.51,307.34" fill="none" stroke="#111" stroke-width="0.55"/>
<path d="M258 203.6V221.8M256.2 203.6H259.8M256.2 221.8H259.8M258.67 204.64V220.76M256.87 204.64H260.47M256.87 220.76H260.47M259.61 206.85V218.55M257.81 206.85H261.41M257.81 218.55H261.41M260.81 207.5V217.9M259.01 207.5H262.61M259.01 217.9H262.61M263.09 209.19V216.21M261.29 209.19H264.89M261.29 216.21H264.89M271.13 206.2V219.2M269.33 206.2H272.93M269.33 219.2H272.93M281.45 207.11V218.29M279.65 207.11H283.25M279.65 218.29H283.25M302.76 204.25V221.15M300.96 204.25H304.56M300.96 221.15H304.56M325.8 204.9V220.5M324 204.9H327.6M324 220.5H327.6M360.11 204.12V221.28M358.31 204.12H361.91M358.31 221.28H361.91M382.22 203.08V222.32M380.42 203.08H384.02M380.42 222.32H384.02M416.12 202.04V223.36M414.32 202.04H417.92M414.32 223.36H417.92M453.51 203.99V222.71M451.71 203.99H455.31M451.71 222.71H455.31M258 316.7V319.3M256.4 316.7H259.6M256.4 319.3H259.6M258.67 308.9V311.5M257.07 308.9H260.27M257.07 311.5H260.27M259.61 298.63V301.75M258.01 298.63H261.21M258.01 301.75H261.21M260.81 298.63V301.75M259.21 298.63H262.41M259.21 301.75H262.41M263.09 297.59V302.79M261.49 297.59H264.69M261.49 302.79H264.69M271.13 279V283.68M269.53 279H272.73M269.53 283.68H272.73M281.45 260.8V267.3M279.85 260.8H283.05M279.85 267.3H283.05M287.08 256.12V260.02M285.48 256.12H288.68M285.48 260.02H288.68M302.76 240.13V244.03M301.16 240.13H304.36M301.16 244.03H304.36M325.8 228.3V236.1M324.2 228.3H327.4M324.2 236.1H327.4M360.11 220.76V230.64M358.51 220.76H361.71M358.51 230.64H361.71M382.22 219.59V229.99M380.62 219.59H383.82M380.62 229.99H383.82M416.12 215.43V231.03M414.52 215.43H417.72M414.52 231.03H417.72M453.51 214.26V230.38M451.91 214.26H455.11M451.91 230.38H455.11M258 318V320.6M256.4 318H259.6M256.4 320.6H259.6M258.67 316.7V319.3M257.07 316.7H260.27M257.07 319.3H260.27M259.61 315.4V318M258.01 315.4H261.21M258.01 318H261.21M260.81 313.84V316.96M259.21 313.84H262.41M259.21 316.96H262.41M263.09 312.28V316.18M261.49 312.28H264.69M261.49 316.18H264.69M271.13 311.11V315.79M269.53 311.11H272.73M269.53 315.79H272.73M281.45 309.29V315.01M279.85 309.29H283.05M279.85 315.01H283.05M287.08 307.86V313.06M285.48 307.86H288.68M285.48 313.06H288.68M302.76 305.13V312.93M301.16 305.13H304.36M301.16 312.93H304.36M325.8 306.56V309.68M324.2 306.56H327.4M324.2 309.68H327.4M360.11 306.82V308.9M358.51 306.82H361.71M358.51 308.9H361.71M382.22 306.82V308.38M380.62 306.82H383.82M380.62 308.38H383.82M416.12 305.13V308.25M414.52 305.13H417.72M414.52 308.25H417.72M453.51 305.78V308.9M451.91 305.78H455.11M451.91 308.9H455.11" stroke="#111" stroke-width="0.6" fill="none"/>
<circle cx="258" cy="212.7" r="2.0" fill="#000"/>
<circle cx="258.67" cy="212.7" r="2.0" fill="#000"/>
<circle cx="259.61" cy="212.7" r="2.0" fill="#000"/>
<circle cx="260.81" cy="212.7" r="2.0" fill="#000"/>
<circle cx="263.09" cy="212.7" r="2.0" fill="#000"/>
<circle cx="271.13" cy="212.7" r="2.0" fill="#000"/>
<circle cx="281.45" cy="212.7" r="2.0" fill="#000"/>
<rect x="285.48" y="211.1" width="3.2" height="3.2" fill="#000"/>
<circle cx="302.76" cy="212.7" r="2.0" fill="#000"/>
<circle cx="325.8" cy="212.7" r="2.0" fill="#000"/>
<circle cx="360.11" cy="212.7" r="2.0" fill="#000"/>
<circle cx="382.22" cy="212.7" r="2.0" fill="#000"/>
<circle cx="416.12" cy="212.7" r="2.0" fill="#000"/>
<circle cx="453.51" cy="212.7" r="2.0" fill="#000"/>
<path d="M256.1 318H259.9L258 321.2Z" fill="#000"/>
<path d="M256.77 316.7H260.57L258.67 319.9Z" fill="#000"/>
<path d="M257.71 315.4H261.51L259.61 318.6Z" fill="#000"/>
<path d="M258.91 314.1H262.71L260.81 317.3Z" fill="#000"/>
<path d="M261.19 312.93H264.99L263.09 316.13Z" fill="#000"/>
<path d="M269.23 312.15H273.03L271.13 315.35Z" fill="#000"/>
<path d="M279.55 310.85H283.35L281.45 314.05Z" fill="#000"/>
<path d="M285.18 309.16H288.98L287.08 312.36Z" fill="#000"/>
<path d="M300.86 307.73H304.66L302.76 310.93Z" fill="#000"/>
<path d="M323.9 306.82H327.7L325.8 310.02Z" fill="#000"/>
<path d="M358.21 306.56H362.01L360.11 309.76Z" fill="#000"/>
<path d="M380.32 306.3H384.12L382.22 309.5Z" fill="#000"/>
<path d="M414.22 305.39H418.02L416.12 308.59Z" fill="#000"/>
<path d="M451.61 306.04H455.41L453.51 309.24Z" fill="#000"/>
<circle cx="258.67" cy="310.2" r="1.65" fill="#fff" stroke="#111" stroke-width="0.7"/>
<circle cx="259.61" cy="300.19" r="1.65" fill="#fff" stroke="#111" stroke-width="0.7"/>
<circle cx="260.81" cy="300.19" r="1.65" fill="#fff" stroke="#111" stroke-width="0.7"/>
<circle cx="263.09" cy="300.19" r="1.65" fill="#fff" stroke="#111" stroke-width="0.7"/>
<circle cx="271.13" cy="281.34" r="1.65" fill="#fff" stroke="#111" stroke-width="0.7"/>
<circle cx="281.45" cy="264.05" r="1.65" fill="#fff" stroke="#111" stroke-width="0.7"/>
<rect x="285.58" y="256.57" width="3" height="3" fill="#fff" stroke="#111" stroke-width="0.7"/>
<circle cx="302.76" cy="242.08" r="1.65" fill="#fff" stroke="#111" stroke-width="0.7"/>
<circle cx="325.8" cy="232.2" r="1.65" fill="#fff" stroke="#111" stroke-width="0.7"/>
<circle cx="360.11" cy="225.7" r="1.65" fill="#fff" stroke="#111" stroke-width="0.7"/>
<circle cx="382.22" cy="224.79" r="1.65" fill="#fff" stroke="#111" stroke-width="0.7"/>
<circle cx="416.12" cy="223.23" r="1.65" fill="#fff" stroke="#111" stroke-width="0.7"/>
<circle cx="453.51" cy="222.32" r="1.65" fill="#fff" stroke="#111" stroke-width="0.7"/>
<rect x="256.8" y="316.8" width="3.8" height="4.6" fill="#000"/><rect x="257.6" y="317.5" width="2.2" height="1.3" fill="#fff"/>
<text x="233.3" y="205.8" font-family='"Liberation Serif","Noto Serif CJK SC",serif' font-size="8" fill="#000">C4</text>
<g font-family='"Liberation Serif","Noto Serif CJK SC",serif' font-size="15.5" fill="#111">
<text x="5.2" y="14.2">A</text><text x="464.6" y="21.3">B</text><text x="464.4" y="197.2">C</text></g>
<g id="panelB">
<defs><filter id="soft" x="-5%" y="-5%" width="110%" height="110%"><feGaussianBlur stdDeviation="0.4"/></filter></defs>
<rect x="479.3" y="19.7" width="202.2" height="143.8" fill="#000"/>
<g filter="url(#soft)"><path fill="#2080ff" d="M499.2 43.6L498.8 42.5L497.6 42.5L496.5 42.9L496.8 44.4L497.5 45.7L498.6 45.2ZM498.1 39.1L498 38.1L497.1 38.4L496.4 39L496.4 40.3L496.8 41.3L497.6 40.7Z"/><path fill="#1f6dff" d="M504.3 81.5L499.6 78.2L492.7 75.4L487.5 73.4L491.7 78.2L497.9 82.9L503.5 83.8ZM502 81.4L500.2 77.7L500.2 81.8ZM500.6 80.9L496 85.5L501.7 82.3ZM499.3 80.1L497.6 76.9L497.5 80.5ZM497.8 79.6L493.9 83.8L498.9 81ZM496.6 78.7L495 75.9L494.9 79.1ZM495.2 78.2L491.9 81.9L496.3 79.6ZM494 77.1L492.6 74.9L492.2 77.5ZM492.6 76.6L490 79.7L493.7 78.1ZM491.5 75.4L490.2 73.8L489.7 75.8ZM490 74.9L488.4 77.3L491.1 76.3ZM504 76.6L499.9 73.5L493.9 71.1L489.3 69.5L492.9 73.8L498.3 78L503.2 78.8ZM501.6 76.3L500.2 74.3L499.8 76.7ZM500.2 75.8L497.9 78.7L501.3 77.2ZM498.8 74.9L497.5 73.1L497 75.3ZM497.4 74.4L495.4 77L498.4 75.9ZM496 73.4L494.8 71.9L494.3 73.8ZM494.6 72.9L493.1 75.1L495.7 74.3ZM493.4 71.6L492.2 70.5L491.6 72ZM491.9 71.1L491 72.9L493 72.5ZM503.6 71.7L500 69L494.7 67.1L490.6 65.9L493.8 69.7L498.5 73.3L502.9 73.8ZM503.1 66.9L500.4 64.6L496.2 63.2L492.9 62.5L495.3 65.7L499 68.7L502.4 68.9ZM502.5 62.1L500 60L496.1 58.8L493.1 58.2L495.3 61.2L498.7 63.9L501.8 64.1ZM501.9 57.5L500.5 55.5L497.7 54.4L495.5 53.9L496.7 56.5L498.7 59L501.1 59.2ZM501.1 52.8L500 51.2L497.9 50.5L496.1 50.4L496.9 52.6L498.4 54.5L500.3 54.5ZM500.2 48.2L499.4 46.8L497.6 46.6L496.2 46.8L496.9 48.6L498.1 50.2L499.5 49.8Z"/><path fill="#20a0ff" d="M499.6 44.9L500.8 44.6L500.8 43.1L500.3 41.6L499.1 41.9L498 42.6L498.2 43.9ZM498.5 40.4L499.5 40.4L499.3 39.4L498.7 38.2L497.7 38.2L496.8 38.5L497.2 39.4Z"/><path fill="#20d0a0" d="M504.5 83.7L510.9 81L517.6 74.2L521.8 67.6L516.1 71.6L508.4 76.7L503.3 81.6ZM505.9 82L513.4 84.8L506.7 80.4ZM507.2 81.2L506.5 76.3L505.4 81.2ZM508.2 80.4L515.2 83L509 78.8ZM509.5 79.7L508.8 75.1L507.7 79.6ZM510.4 78.8L516.8 81L511.3 77.2ZM511.7 78L511 73.8L510 77.9ZM512.6 77L518.3 78.9L513.5 75.4ZM514 76.2L513.2 72.5L512.2 76.2ZM514.8 75.1L519.7 76.6L515.6 73.5ZM516.1 74.4L515.3 71.1L514.3 74.3ZM516.9 73.2L520.9 74.2L517.7 71.6ZM518.2 72.4L517.4 69.7L516.4 72.3ZM518.9 71.1L521.9 71.6L519.7 69.5ZM520.2 70.3L519.4 68.3L518.4 70.2ZM504.2 78.7L509.3 76.5L514.2 70.8L517.2 65.3L512.7 68.4L506.7 72.5L503 76.7ZM505.6 76.9L509.6 77.7L506.4 75.2ZM506.9 76.1L506 73.5L505.1 76.1ZM507.9 75.1L511.5 75.8L508.7 73.5ZM509.2 74.3L508.3 72L507.4 74.3ZM510.1 73.2L513.3 73.6L510.9 71.5ZM511.4 72.4L510.5 70.3L509.6 72.4ZM512.3 71.1L515 71.4L513 69.5ZM513.6 70.3L512.7 68.6L511.8 70.3ZM514.3 68.9L516.4 68.9L515.1 67.3ZM515.6 68.1L514.7 66.8L513.8 68.1ZM503.9 73.7L508.1 71.6L511.8 66.4L513.8 61.5L510.2 64.2L505.4 68L502.5 71.9ZM503.5 68.7L507.1 66.6L510.1 61.5L511.5 56.8L508.3 59.6L504.3 63.3L502 67.1ZM502.8 63.9L506 62.3L508.4 58.2L509.6 54.3L506.8 56.3L503.3 59.2L501.5 62.3ZM502.2 59L504.6 57.6L506 54.1L506.4 50.8L504.3 52.5L501.8 55L500.8 57.7ZM501.4 54.3L503.3 53.5L504.2 50.8L504.3 48.3L502.5 49.3L500.6 50.9L500 53ZM500.5 49.6L502.1 49.1L502.6 46.9L502.5 44.8L501 45.5L499.4 46.7L499.2 48.4Z"/><polyline points="504,85.4 503.7,80 503.4,74.6 502.9,69.3 502.3,64 501.6,58.9 500.7,53.7 499.8,48.7 498.8,43.7 497.6,38.8 496.3,34" fill="none" stroke="#60ee2a" stroke-width="1.2"/><path fill="#28e048" d="M499.1 43.9L498.8 43.1L497.9 43L497.1 43.3L497.3 44.3L497.9 45.2L498.7 45ZM498 39.4L498 38.7L497.5 39L497 39.4L497 40.2L497.2 40.8L497.7 40.4Z"/><path fill="#2fe046" d="M504.2 81.8L499.6 78.8L493 75.9L488.1 73.7L492.2 78.1L498.3 82.4L503.6 83.6ZM501.6 81.5L500.4 78.3L500.6 81.7ZM500.8 81.2L496.5 85.1L501.4 82ZM498.9 80.2L497.7 77.5L497.9 80.4ZM498.1 79.9L494.4 83.4L498.7 80.7ZM496.2 78.8L495.2 76.5L495.2 79ZM495.4 78.5L492.4 81.5L496 79.3ZM493.6 77.2L492.7 75.4L492.6 77.5ZM492.8 76.9L490.5 79.4L493.4 77.7ZM491.1 75.5L490.3 74.4L490.1 75.7ZM490.3 75.2L488.8 77L490.9 76ZM503.9 76.8L499.9 74.1L494.2 71.7L489.9 69.8L493.4 73.7L498.7 77.6L503.3 78.5ZM501.2 76.4L500.3 74.8L500.2 76.6ZM500.4 76.1L498.4 78.3L501 76.9ZM498.4 75L497.6 73.7L497.4 75.2ZM497.6 74.7L495.9 76.6L498.2 75.5ZM495.6 73.5L494.9 72.5L494.7 73.7ZM494.9 73.2L493.6 74.7L495.5 74ZM493 71.7L492.3 71.1L492 71.9ZM492.2 71.4L491.5 72.6L492.8 72.2ZM503.5 72L500 69.6L495 67.7L491.2 66.2L494.3 69.6L498.9 72.9L502.9 73.6ZM503 67.1L500.4 65.2L496.5 63.8L493.6 62.8L495.9 65.6L499.3 68.2L502.5 68.7ZM502.4 62.4L500 60.6L496.4 59.4L493.7 58.5L495.8 61.1L499 63.5L501.9 63.8ZM501.8 57.7L500.4 56.1L498 55L496.1 54.4L497.2 56.5L499.1 58.6L501.2 59ZM501 53L500 51.7L498.1 51.1L496.6 50.8L497.5 52.5L498.9 54.1L500.4 54.2ZM500.1 48.4L499.3 47.4L497.9 47.2L496.8 47.2L497.4 48.6L498.5 49.7L499.6 49.6Z"/><path fill="#3be83a" d="M499.4 44.8L500.3 44.5L500.3 43.3L500 42.2L499.2 42.5L498.4 43.1L498.4 44.1ZM498.3 40.2L498.9 40.3L498.8 39.6L498.4 38.9L497.7 38.8L497.1 39L497.4 39.6Z"/><path fill="#60ee2a" d="M504.4 83.5L510.5 80.7L517 74.2L521.3 68.1L515.9 72.1L508.5 77.3L503.4 81.8ZM506 81.7L512.9 84.6L506.5 80.8ZM506.8 81.2L506.4 76.9L505.8 81.2ZM508.4 80.1L514.6 82.7L508.8 79.2ZM509.1 79.7L508.8 75.7L508.1 79.6ZM510.6 78.4L516.3 80.7L511.1 77.5ZM511.3 78L511 74.4L510.4 78ZM512.8 76.6L517.8 78.6L513.3 75.8ZM513.6 76.2L513.2 73.1L512.6 76.2ZM515 74.8L519.2 76.4L515.4 73.9ZM515.7 74.4L515.3 71.7L514.7 74.3ZM517 72.8L520.4 73.9L517.5 71.9ZM517.8 72.4L517.4 70.3L516.8 72.3ZM519.1 70.7L521.4 71.3L519.5 69.8ZM519.8 70.3L519.4 68.9L518.8 70.3ZM504.1 78.5L508.8 76.2L513.7 70.8L516.6 65.8L512.5 69L506.9 73.1L503.1 76.9ZM505.8 76.5L509.1 77.5L506.2 75.6ZM506.5 76.1L506 74.1L505.5 76.1ZM508.1 74.7L511 75.5L508.5 73.8ZM508.8 74.3L508.3 72.6L507.8 74.3ZM510.3 72.8L512.8 73.4L510.7 71.9ZM511 72.4L510.5 70.9L510 72.4ZM512.4 70.8L514.4 71.1L512.9 69.9ZM513.2 70.3L512.7 69.2L512.2 70.3ZM514.5 68.6L515.9 68.7L514.9 67.7ZM515.2 68.1L514.7 67.4L514.2 68.1ZM503.7 73.4L507.6 71.3L511.2 66.5L513.4 62L510 64.8L505.5 68.6L502.7 72.1ZM503.3 68.5L506.6 66.3L509.5 61.6L511.1 57.4L508.2 60.2L504.5 63.9L502.2 67.3ZM502.7 63.7L505.5 62.1L507.9 58.3L509.1 54.8L506.7 56.9L503.5 59.8L501.7 62.5ZM502 58.8L504.1 57.4L505.5 54.2L506 51.4L504.2 53.1L502 55.5L501 57.9ZM501.2 54.1L502.8 53.3L503.7 51L503.9 48.9L502.5 49.9L500.9 51.4L500.2 53.2ZM500.3 49.4L501.6 48.9L502.1 47.1L502.1 45.4L501 46.1L499.7 47.2L499.4 48.6Z"/><path fill="#60f030" d="M499 44.1L498.7 43.6L498 43.5L497.5 43.5L497.7 44.2L498.2 44.9L498.8 44.8ZM498 39.6L497.9 39.2L497.5 39.3L497.1 39.5L497.2 40L497.4 40.4L497.7 40.2Z"/><path fill="#a4ee22" d="M504.1 82.1L500.3 79.9L495.1 77.5L491.2 75.5L494.6 78.8L499.5 82.1L503.7 83.2ZM503.8 77.2L500.5 75.2L496 73.1L492.6 71.4L495.5 74.3L499.8 77.2L503.4 78.2ZM503.4 72.3L500.6 70.6L496.6 68.9L493.6 67.5L496.2 70L499.9 72.5L503.1 73.2ZM502.9 67.4L500.8 66L497.7 64.8L495.4 63.8L497.3 65.9L500.1 67.9L502.6 68.4ZM502.3 62.7L500.3 61.4L497.5 60.3L495.4 59.4L497.2 61.3L499.8 63.1L502 63.5ZM501.7 58L500.5 56.8L498.6 55.8L497.2 55.2L498.2 56.7L499.7 58.3L501.3 58.7ZM500.9 53.3L500 52.4L498.6 51.7L497.5 51.4L498.2 52.6L499.3 53.8L500.6 54ZM500 48.7L499.4 48L498.3 47.7L497.4 47.6L498 48.5L498.8 49.4L499.7 49.4Z"/><path fill="#8cf02a" d="M499.2 44.6L499.8 44.3L499.9 43.5L499.8 42.6L499.2 43L498.7 43.5L498.6 44.2ZM498.1 40.1L498.5 40.1L498.5 39.6L498.3 39.1L497.8 39.1L497.5 39.3L497.6 39.7Z"/><path fill="#c8f020" d="M504.2 83.2L509 80.7L514.3 75.7L517.8 71L513.6 74.5L507.8 78.7L503.6 82.2ZM503.9 78.1L507.6 76.2L511.5 72L514 68.2L510.8 70.9L506.4 74.3L503.3 77.2ZM503.5 73.2L506.5 71.3L509.5 67.6L511.3 64.1L508.8 66.6L505.3 69.7L502.9 72.4ZM503.1 68.3L505.6 66.4L508 62.7L509.4 59.5L507.3 61.9L504.3 64.9L502.4 67.5ZM502.5 63.4L504.6 62L506.6 59.1L507.7 56.5L505.9 58.3L503.5 60.7L501.9 62.7ZM501.8 58.6L503.4 57.4L504.6 54.9L505.1 52.8L503.8 54.3L502.1 56.3L501.2 58ZM501 53.9L502.2 53.1L503 51.4L503.2 49.8L502.3 50.8L501 52.1L500.4 53.4ZM500.1 49.3L501 48.7L501.5 47.4L501.6 46.2L500.9 46.8L499.9 47.7L499.6 48.8Z"/><path fill="#b8f028" d="M499 44.3L498.7 43.9L498.3 43.8L497.9 43.8L498.1 44.2L498.4 44.6L498.8 44.6ZM497.9 39.7L497.8 39.5L497.6 39.5L497.4 39.6L497.4 39.9L497.6 40.2L497.8 40.1Z"/><path fill="#f4d81a" d="M504 82.4L501.4 80.9L497.8 79.2L495.2 77.8L497.6 79.9L500.9 82.1L503.8 83ZM503.7 77.4L501.4 76.1L498.3 74.6L496.1 73.4L498.1 75.3L501 77.2L503.5 78ZM503.3 72.5L501.3 71.4L498.6 70.2L496.6 69.2L498.4 70.8L501 72.5L503.1 73ZM502.8 67.7L501.3 66.8L499.2 65.8L497.7 65.1L499 66.4L501 67.7L502.7 68.1ZM502.2 62.9L500.9 62.1L498.9 61.2L497.5 60.6L498.7 61.8L500.6 63L502.1 63.3ZM501.6 58.1L500.8 57.4L499.5 56.7L498.5 56.2L499.2 57.2L500.3 58.2L501.4 58.5ZM500.8 53.5L500.2 52.9L499.2 52.4L498.5 52.1L499 52.9L499.8 53.6L500.6 53.8ZM499.9 48.8L499.5 48.4L498.8 48.2L498.2 48L498.6 48.6L499.2 49.1L499.8 49.2Z"/><path fill="#e6ee1c" d="M499.1 44.5L499.4 44.3L499.6 43.7L499.5 43.2L499.2 43.5L498.8 43.9L498.8 44.3ZM498 40L498.2 40L498.2 39.6L498.1 39.3L497.9 39.4L497.7 39.5L497.7 39.8Z"/><path fill="#ffc01a" d="M504 82.9L507.3 81.2L511 77.8L513.4 74.7L510.6 77.1L506.7 80.1L503.7 82.4ZM503.8 77.9L506.3 76.5L509 73.7L510.8 71.2L508.6 73.1L505.6 75.5L503.4 77.4ZM503.4 73L505.4 71.7L507.5 69.1L508.8 66.8L507.1 68.6L504.7 70.8L503.1 72.5ZM502.9 68.1L504.6 66.7L506.3 64.3L507.3 62.1L505.9 63.8L503.9 66L502.6 67.7ZM502.3 63.3L503.8 62.3L505.2 60.3L506 58.6L504.8 59.9L503.1 61.5L502 62.9ZM501.7 58.5L502.7 57.6L503.5 56L504 54.5L503.1 55.6L502 57L501.3 58.2ZM500.9 53.8L501.6 53.2L502.2 52.1L502.5 51L501.8 51.7L501 52.6L500.6 53.5ZM500 49.1L500.6 48.7L501 47.8L501.1 47L500.6 47.5L500 48.2L499.7 48.9Z"/><polyline points="504,85.4 503.7,80 503.4,74.6 502.9,69.3 502.3,64 501.6,58.9 500.7,53.7 499.8,48.7 498.8,43.7 497.6,38.8 496.3,34" fill="none" stroke="#c8f020" stroke-width="0.6"/></g>
<g filter="url(#soft)"><path fill="#2050ff" d="M536.1 29.2L536.3 28L535.2 28.2L534.1 28.8L533.7 30.2L533.8 31.4L534.9 30.9Z"/><path fill="#2080ff" d="M539.4 77.4L534.8 68.1L526.5 57.4L519.8 49.7L523.3 59.8L529.6 72L536.7 79.3ZM537.3 76.4L537.9 72.2L535.6 75.8ZM536.4 75.2L529.8 76.5L536.5 77ZM535.7 74.2L536.2 70.2L534 73.5ZM534.8 73L528.5 74.3L534.9 74.7ZM534.1 71.9L534.6 68.1L532.4 71.3ZM533.2 70.7L527.3 72L533.3 72.5ZM532.5 69.6L532.9 66L530.9 69ZM531.6 68.4L526.1 69.7L531.8 70.2ZM531 67.3L531.3 63.9L529.3 66.7ZM530.1 66.1L525 67.3L530.2 67.9ZM529.5 65L529.7 61.8L527.8 64.3ZM528.6 63.8L523.9 65L528.7 65.6ZM528 62.6L528.2 59.7L526.4 62ZM527.1 61.4L522.8 62.6L527.3 63.2ZM526.6 60.3L526.6 57.6L524.9 59.6ZM525.7 59.1L521.9 60.2L525.8 60.9ZM525.2 57.9L525.1 55.5L523.5 57.3ZM524.3 56.7L521 57.8L524.4 58.5ZM523.8 55.5L523.6 53.4L522.1 54.8ZM522.9 54.3L520.2 55.4L523 56.1ZM522.4 53.1L522.1 51.4L520.7 52.4ZM521.5 51.8L519.5 52.9L521.6 53.6ZM539.4 79.2L545.7 72L550.6 60.1L553 50.5L547.3 58.1L540.2 68.5L536.7 77.5ZM539.5 76.8L545.7 75.9L539.5 75ZM540.3 75.6L537.9 72.5L538.7 76.3ZM541 74.5L546.8 73.5L541 72.7ZM541.8 73.2L539.4 70.2L540.2 73.9ZM542.4 72L547.9 71.1L542.4 70.2ZM543.2 70.8L540.9 68L541.6 71.5ZM543.8 69.6L548.9 68.7L543.8 67.8ZM544.6 68.3L542.4 65.8L543 69.1ZM545.2 67.1L549.9 66.2L545.1 65.3ZM546 65.9L543.9 63.5L544.3 66.6ZM546.5 64.7L550.8 63.7L546.5 62.9ZM547.3 63.4L545.3 61.3L545.7 64.2ZM547.8 62.2L551.6 61.2L547.8 60.4ZM548.6 60.9L546.7 59L547 61.7ZM549.1 59.7L552.4 58.7L549 57.9ZM549.9 58.4L548.1 56.8L548.2 59.1ZM550.3 57.1L553 56.2L550.3 55.3ZM551.1 55.9L549.5 54.6L549.5 56.6ZM551.5 54.6L553.5 53.7L551.5 52.8ZM552.3 53.3L550.9 52.4L550.7 54.1ZM539.4 68L535.4 60.4L527.9 52.1L522 46.1L525.2 54.3L530.8 64.2L537.2 69.8ZM537.4 67.1L537.3 64.6L535.7 66.5ZM536.5 65.9L533.1 67.2L536.7 67.7ZM535.7 64.9L535.6 62.6L534 64.4ZM534.8 63.8L531.6 65.1L535 65.5ZM534.1 62.8L533.9 60.5L532.4 62.2ZM533.1 61.6L530.1 62.9L533.3 63.4ZM532.4 60.6L532.2 58.5L530.7 60ZM531.5 59.4L528.7 60.7L531.7 61.2ZM530.8 58.4L530.5 56.4L529.1 57.8ZM529.9 57.2L527.3 58.4L530.1 59ZM529.3 56.1L528.9 54.3L527.6 55.6ZM528.3 55L526 56.2L528.5 56.8ZM527.7 53.9L527.3 52.2L526 53.3ZM526.8 52.7L524.8 53.9L527 54.5ZM539.5 69.7L544.8 64.4L548.8 55.1L550.8 47.5L545.9 53.1L539.9 61L537.1 68.1ZM539.8 67.6L543 66.8L539.8 65.8ZM540.6 66.3L539 64.7L539 67ZM541.2 65.3L544.2 64.5L541.3 63.5ZM542.1 64.1L540.5 62.6L540.4 64.8ZM542.6 63.1L545.4 62.3L542.7 61.3ZM543.5 61.8L541.9 60.5L541.8 62.5ZM544 60.8L546.6 60L544.1 59ZM544.9 59.5L543.4 58.3L543.2 60.2ZM545.4 58.5L547.7 57.6L545.4 56.7ZM546.2 57.2L544.8 56.1L544.6 57.9ZM546.7 56.1L548.8 55.3L546.8 54.3ZM547.6 54.9L546.2 53.9L545.9 55.6ZM539.4 59.5L537.1 54.2L532 48.9L527.8 45.2L529.5 50.9L532.9 57.7L537.3 61.2ZM539.5 61L543.3 56.8L545.5 49.7L546.3 43.8L542.7 48.1L538.6 54.2L537.2 59.7ZM539.1 51.8L537.2 47.5L532.7 43.4L529 40.7L530.5 45.4L533.4 50.8L537.3 53.4ZM539.3 53.2L542 50.7L543.1 46L543.1 42L540.5 44.5L537.6 48.3L537.1 52ZM538.7 44.9L537.6 41.9L534.5 39.4L531.7 37.9L532.4 41.3L534.1 45L537 46.5ZM538.9 46.2L540.9 44.4L541.1 41.1L540.5 38.2L538.5 39.9L536.6 42.5L536.8 45.2ZM538 38.8L537.3 36.7L535 35.5L532.8 35L533.2 37.5L534.4 40L536.5 40.5ZM538.3 40L539.8 39L539.6 36.7L538.7 34.7L537.1 35.8L535.7 37.4L536.2 39.2ZM537.2 33.7L537.3 32.2L535.8 31.8L534.2 31.9L534 33.6L534.3 35.2L535.7 35.2ZM537.5 34.7L538.8 34L538.2 32.5L537.2 31.2L535.8 31.8L534.7 32.9L535.5 34.1Z"/><polyline points="537.9,82.2 538.2,72.8 538.4,64.1 538.3,56.2 538,49.1 537.6,42.8 537,37.3 536.1,32.6 535.1,28.7 533.9,25.6 532.5,23.2" fill="none" stroke="#28e048" stroke-width="1.2"/><path fill="#22c8e0" d="M536 29.4L536.1 28.6L535.4 28.8L534.6 29.3L534.3 30.2L534.3 31L535.1 30.7Z"/><path fill="#28e048" d="M539.1 77.5L534.5 68.6L526.5 58L520.2 50.3L523.9 60L530.1 71.8L537 79.1ZM536.9 76.3L537.7 72.8L536 75.9ZM536.4 75.6L530.4 76.5L536.5 76.6ZM535.3 74L536 70.7L534.4 73.7ZM534.8 73.3L529.1 74.2L534.9 74.3ZM533.7 71.8L534.4 68.7L532.8 71.4ZM533.2 71.1L527.9 71.9L533.3 72.1ZM532.2 69.5L532.7 66.6L531.2 69.1ZM531.7 68.8L526.7 69.6L531.7 69.8ZM530.6 67.2L531.1 64.5L529.7 66.8ZM530.1 66.5L525.6 67.3L530.2 67.5ZM529.1 64.8L529.5 62.4L528.2 64.5ZM528.6 64.2L524.5 64.9L528.7 65.2ZM527.7 62.5L528 60.3L526.7 62.1ZM527.2 61.8L523.4 62.6L527.2 62.8ZM526.2 60.1L526.4 58.2L525.3 59.8ZM525.7 59.5L522.5 60.2L525.8 60.5ZM524.8 57.7L524.9 56.1L523.9 57.4ZM524.3 57.1L521.6 57.8L524.4 58.1ZM523.4 55.3L523.4 54L522.5 55ZM522.9 54.7L520.8 55.3L523 55.7ZM522 52.9L521.9 52L521.1 52.6ZM521.5 52.2L520.1 52.8L521.6 53.2ZM539.2 79L545.1 71.8L550 60.4L552.7 51.1L547.3 58.7L540.5 69L536.9 77.6ZM539.5 76.4L545.1 75.9L539.5 75.4ZM540 75.7L538.2 73L539.1 76.2ZM541 74.1L546.2 73.5L541 73.1ZM541.4 73.3L539.7 70.8L540.5 73.8ZM542.4 71.6L547.3 71.1L542.4 70.6ZM542.9 70.9L541.2 68.6L542 71.3ZM543.8 69.2L548.3 68.7L543.8 68.2ZM544.2 68.5L542.7 66.3L543.3 68.9ZM545.2 66.7L549.3 66.2L545.2 65.7ZM545.6 66L544.1 64.1L544.7 66.5ZM546.5 64.3L550.2 63.7L546.5 63.3ZM546.9 63.6L545.6 61.8L546 64ZM547.8 61.8L551 61.3L547.8 60.8ZM548.2 61.1L547 59.6L547.3 61.5ZM549.1 59.3L551.8 58.7L549 58.3ZM549.5 58.6L548.4 57.3L548.6 59ZM550.3 56.7L552.4 56.2L550.3 55.7ZM550.7 56L549.8 55.1L549.8 56.4ZM551.5 54.2L552.9 53.7L551.5 53.2ZM552 53.5L551.2 52.9L551 53.9ZM539.2 68.1L535.1 61L528 52.7L522.4 46.7L525.7 54.5L531.4 64L537.4 69.7ZM537.1 66.9L537.1 65.2L536.1 66.6ZM536.5 66.3L533.7 67.1L536.6 67.3ZM535.4 64.8L535.4 63.1L534.4 64.5ZM534.8 64.2L532.2 65L534.9 65.2ZM533.7 62.6L533.7 61.1L532.7 62.3ZM533.2 62L530.7 62.8L533.3 63ZM532.1 60.5L532 59L531.1 60.2ZM531.5 59.8L529.3 60.6L531.7 60.8ZM530.5 58.3L530.4 56.9L529.5 57.9ZM529.9 57.6L527.9 58.3L530 58.6ZM528.9 56L528.7 54.9L527.9 55.7ZM528.3 55.4L526.6 56.1L528.5 56.4ZM527.3 53.8L527.1 52.8L526.4 53.5ZM526.8 53.1L525.3 53.8L526.9 54.1ZM539.3 69.6L544.2 64.2L548.3 55.3L550.5 48.1L545.9 53.7L540.3 61.5L537.3 68.2ZM539.8 67.2L542.4 66.8L539.8 66.2ZM540.3 66.5L539.2 65.3L539.3 66.9ZM541.2 64.9L543.6 64.5L541.3 63.9ZM541.7 64.2L540.7 63.2L540.8 64.6ZM542.7 62.7L544.8 62.2L542.7 61.7ZM543.1 62L542.2 61L542.2 62.4ZM544 60.4L546 59.9L544.1 59.4ZM544.5 59.7L543.6 58.8L543.6 60.1ZM545.4 58.1L547.1 57.6L545.4 57.1ZM545.9 57.4L545 56.7L545 57.8ZM546.7 55.7L548.2 55.3L546.7 54.7ZM547.2 55L546.4 54.5L546.3 55.4ZM539.2 59.6L536.8 54.8L532 49.5L528.2 45.8L530 51.1L533.4 57.5L537.5 61ZM539.3 60.9L542.7 56.8L545 50L545.9 44.4L542.8 48.7L539 54.6L537.4 59.8ZM538.9 51.9L536.9 48L532.8 44L529.4 41.2L531 45.6L533.9 50.6L537.5 53.2ZM539.1 53.1L541.4 50.6L542.6 46.3L542.8 42.6L540.5 45.1L538 48.7L537.3 52.1ZM538.5 45.1L537.4 42.4L534.6 40L532.1 38.4L533 41.4L534.7 44.8L537.2 46.3ZM538.7 46.1L540.3 44.4L540.6 41.4L540.3 38.9L538.7 40.5L537 43L537 45.3ZM537.8 39L537.1 37.2L535.1 36.1L533.3 35.5L533.8 37.6L534.9 39.7L536.7 40.3ZM538 39.9L539.3 39L539.1 37L538.5 35.4L537.2 36.3L536.1 37.8L536.5 39.3ZM537 33.9L537 32.7L535.9 32.4L534.7 32.4L534.6 33.7L534.8 35L535.9 35ZM537.3 34.6L538.2 34.1L537.8 32.9L537 31.9L536 32.4L535.2 33.2L535.7 34.2Z"/><path fill="#30e060" d="M535.8 29.7L535.8 29.1L535.3 29.2L534.8 29.4L534.7 30.1L534.7 30.6L535.2 30.4Z"/><path fill="#60f030" d="M538.7 77.8L534.8 70.9L528.5 62.3L523.8 55.9L527 63.4L532.2 72.8L537.4 78.8ZM538.7 78.8L543.2 72.9L547.4 63.8L549.8 56.6L545.7 62.8L540.5 71.1L537.4 77.9ZM538.9 68.4L535.4 62.9L529.8 56.1L525.6 51.1L528.5 57.2L533.1 64.7L537.7 69.4ZM538.9 69.3L542.7 64.9L546.1 57.9L548 52.3L544.6 56.9L540.3 63.3L537.7 68.5ZM538.9 59.9L536.8 56.1L533.1 51.8L530.2 48.7L531.9 52.8L534.7 57.8L537.8 60.7ZM538.9 60.6L541.5 57.3L543.5 51.9L544.4 47.6L542.1 51.1L539.2 56L537.8 60ZM538.6 52.2L536.8 49.2L533.7 45.9L531.2 43.5L532.6 46.8L535.1 50.8L537.8 53ZM538.7 52.9L540.4 50.8L541.5 47.4L541.9 44.6L540.3 46.7L538.4 49.7L537.7 52.3ZM538.2 45.3L537.2 43.3L535 41.3L533.3 39.9L534.1 42.1L535.6 44.7L537.4 46.1ZM538.3 45.9L539.5 44.5L539.9 42.2L539.8 40.2L538.7 41.6L537.5 43.6L537.3 45.5ZM537.6 39.3L536.9 38L535.4 36.9L534.1 36.4L534.6 37.8L535.6 39.4L536.9 40ZM537.7 39.8L538.5 39L538.6 37.5L538.2 36.2L537.4 37.1L536.7 38.3L536.8 39.5ZM536.8 34.1L536.7 33.3L535.9 32.9L535.1 32.8L535.1 33.7L535.4 34.6L536.2 34.8ZM536.9 34.5L537.6 34.1L537.4 33.2L536.9 32.4L536.3 32.9L535.7 33.6L536 34.3Z"/><path fill="#8cf030" d="M535.7 29.9L535.7 29.5L535.3 29.5L535 29.6L535 30L535.1 30.3L535.4 30.2Z"/><path fill="#b8f028" d="M538.4 78.1L535.6 73.3L531.4 67.4L528.2 62.9L530.6 68L534.2 74.4L537.7 78.6ZM538.4 78.6L541.4 74.4L544.3 68.3L546.1 63.4L543.5 67.7L539.9 73.5L537.7 78.1ZM538.6 68.7L536.1 64.9L532.4 60.2L529.6 56.7L531.7 60.8L534.9 65.9L538 69.2ZM538.6 69.1L541.1 66L543.5 61.3L545 57.5L542.8 60.7L539.8 65.1L538 68.7ZM538.6 60.1L537.1 57.6L534.6 54.5L532.7 52.3L534 55.1L536 58.4L538.1 60.5ZM538.7 60.5L540.3 58.1L541.8 54.5L542.5 51.6L541 54.1L539.1 57.4L538.1 60.2ZM538.4 52.4L537.1 50.4L535 48L533.4 46.3L534.5 48.5L536.2 51.2L538 52.8ZM538.5 52.7L539.6 51.3L540.4 49L540.7 47.1L539.7 48.6L538.5 50.7L537.9 52.4ZM538 45.5L537.3 44.2L535.8 42.7L534.7 41.7L535.3 43.2L536.4 44.9L537.6 45.9ZM538.1 45.8L538.8 44.8L539.2 43.2L539.2 41.9L538.5 42.9L537.8 44.4L537.6 45.6ZM537.4 39.4L536.9 38.6L535.9 37.8L535.1 37.4L535.5 38.3L536.2 39.4L537.1 39.8ZM537.5 39.7L538 39.1L538.1 38.1L537.9 37.3L537.5 37.9L537 38.8L537 39.5ZM536.7 34.2L536.5 33.7L536 33.4L535.5 33.3L535.6 33.9L535.8 34.5L536.3 34.6ZM536.7 34.5L537.1 34.1L537 33.5L536.8 33L536.4 33.4L536.1 33.9L536.2 34.4Z"/><polyline points="537.9,82.2 538.2,72.8 538.4,64.1 538.3,56.2 538,49.1 537.6,42.8 537,37.3 536.1,32.6 535.1,28.7 533.9,25.6 532.5,23.2" fill="none" stroke="#60f030" stroke-width="0.6"/></g>
<g filter="url(#soft)"><path fill="#2080ff" d="M588.8 43.2L588 42.1L586.7 42.3L585.6 42.8L586.3 44.3L587.3 45.5L588.4 44.9ZM587.6 38.7L587.3 37.8L586.4 38.1L585.7 38.8L586 40.1L586.5 41L587.2 40.4Z"/><path fill="#1f6dff" d="M595.6 78L589.4 76.1L581.2 75.3L574.9 74.7L581 78.3L589.2 81.1L595.4 80.5ZM593.4 78.6L590.4 75.2L591.9 79.5ZM591.9 78.5L588.5 84.9L593.4 79.5ZM590.6 78.2L587.8 75.2L589 79.1ZM589.1 78.1L586 84L590.5 79.2ZM587.7 77.7L585.2 75L586.2 78.6ZM586.2 77.6L583.6 82.9L587.7 78.7ZM584.9 77.1L582.6 74.8L583.3 78ZM583.4 77L581.2 81.6L584.8 78.1ZM582.1 76.3L580 74.5L580.5 77.2ZM580.6 76.2L578.9 80L582 77.3ZM579.2 75.4L577.5 74.2L577.7 76.3ZM577.7 75.3L576.8 78.2L579.2 76.4ZM595 73.7L589.4 71.9L581.8 71.1L576.2 70.6L581.7 74L589.1 76.6L594.8 76.1ZM593.1 74.2L591 72.3L591.5 75.1ZM591.6 74.1L589.8 78.1L593 75.2ZM590.5 73.9L588.5 72.2L588.9 74.8ZM589 73.8L587.5 77.4L590.4 74.9ZM587.9 73.4L586 71.9L586.3 74.3ZM586.4 73.3L585.1 76.6L587.9 74.4ZM585.3 72.8L583.6 71.5L583.8 73.7ZM583.8 72.7L582.8 75.7L585.3 73.8ZM582.8 72.1L581.1 71.1L581.2 73ZM581.2 72L580.5 74.5L582.7 73.1ZM580.2 71.3L578.8 70.6L578.6 72.1ZM578.7 71.2L578.3 73.2L580.1 72.2ZM594.2 69.4L589.6 68L583.5 67.9L578.9 67.9L583.5 70.6L589.6 72.5L594.2 71.6ZM593.6 65.1L589.6 63.3L584.1 62.6L579.9 62.3L583.8 65.2L589.1 67.6L593.4 67.2ZM592.8 60.7L589.8 59.2L585.6 58.8L582.5 58.7L585.3 61.2L589.3 63.2L592.6 62.8ZM591.9 56.3L589.5 54.9L586.1 54.6L583.5 54.6L585.7 56.9L589 58.8L591.6 58.3ZM590.9 52L589 50.8L586.4 50.9L584.4 51.4L586.2 53.2L588.7 54.5L590.7 53.8ZM589.9 47.6L588.7 46.3L586.7 46.3L585.1 46.7L586.3 48.5L588 49.9L589.6 49.3Z"/><path fill="#20a0ff" d="M589.3 44.5L590.5 44.2L590.5 42.7L590 41.2L588.8 41.5L587.7 42.2L587.9 43.5ZM588.1 40L589.1 40L588.8 38.9L588.2 37.8L587.2 37.8L586.3 38.1L586.7 39.1Z"/><path fill="#20d0a0" d="M596.2 80.3L601.9 77.7L607.6 71.1L611 64.9L606 68.6L599.2 73.5L594.8 78.2ZM597.5 78.4L604.4 80.6L598.2 76.8ZM598.8 77.6L597.9 73.2L597 77.6ZM599.8 76.7L606.1 78.5L600.5 75.1ZM601.1 75.9L600.2 71.8L599.3 75.9ZM602 74.8L607.7 76.4L602.8 73.2ZM603.3 74L602.4 70.4L601.5 74ZM604.2 72.9L609.1 74.1L604.9 71.2ZM605.4 72L604.5 68.9L603.6 72ZM606.2 70.8L610.3 71.6L607 69.1ZM607.5 69.9L606.6 67.4L605.7 69.9ZM608.2 68.6L611.2 68.9L609 66.9ZM609.5 67.7L608.6 65.8L607.7 67.7ZM595.7 75.8L600.7 72.5L605.1 65.6L607.4 59.4L603.2 63.5L597.5 69L594.1 74ZM596.6 73.9L601.1 74.2L597.1 72.2ZM597.8 72.9L596.5 70.3L596 73.2ZM598.5 72L602.6 72.2L599 70.2ZM599.7 71L598.4 68.6L597.9 71.2ZM600.3 69.9L604 70L600.8 68.2ZM601.5 68.9L600.2 66.8L599.7 69.2ZM602.1 67.8L605.2 67.7L602.5 66ZM603.2 66.8L602 64.9L601.4 67.1ZM603.7 65.5L606.4 65.4L604.2 63.8ZM604.8 64.5L603.7 63L603 64.8ZM605.2 63.2L607.3 62.8L605.7 61.5ZM606.4 62.2L605.3 61L604.6 62.5ZM595 71.3L599.1 68.5L602.3 62.5L603.8 57.1L600.4 60.6L595.9 65.3L593.4 69.7ZM594.2 66.9L597.7 65L600.4 60.2L601.6 55.8L598.6 58.3L594.8 61.8L592.8 65.3ZM593.5 62.4L596.1 60.6L597.6 56.4L598 52.7L595.7 54.8L593 57.9L591.9 61.1ZM592.5 57.9L594.9 56.5L596.1 52.9L596.3 49.6L594.3 51.4L591.9 53.9L591 56.7ZM591.5 53.5L593.4 52.5L594.2 49.7L594.1 47L592.4 48.2L590.5 50.1L590.1 52.3ZM590.4 49L591.9 48.5L592.3 46.4L592 44.4L590.6 45.1L589.2 46.2L589.1 47.9ZM595.9 78.4L601.8 73.8L607.4 65.5L610.8 58.7L605.1 63.4L598.1 70.3L594.1 76.6ZM596.6 76.4L603.5 76.7L596.9 74.7ZM597.7 75.3L595.1 68.9L595.9 75.8ZM598.4 74.5L604.8 74.7L598.7 72.7ZM599.4 73.3L597 67.4L597.7 73.8ZM600.1 72.5L606 72.6L600.5 70.7ZM601.2 71.4L598.8 65.9L599.4 71.8ZM601.9 70.4L607.2 70.5L602.2 68.7ZM602.9 69.3L600.7 64.4L601.2 69.8ZM603.6 68.4L608.4 68.4L603.9 66.6ZM604.6 67.3L602.6 63L602.9 67.8ZM605.3 66.4L609.4 66.2L605.6 64.6ZM606.3 65.2L604.4 61.5L604.5 65.7ZM606.9 64.3L610.3 64L607.2 62.5ZM607.9 63.2L606.2 60.2L606.2 63.6ZM608.6 62.2L611.1 61.7L608.9 60.4ZM609.6 61.1L608.1 59L607.8 61.5Z"/><polyline points="595.8,81.6 595.2,76.9 594.5,72.1 593.7,67.4 592.8,62.6 591.9,57.8 590.8,53 589.7,48.2 588.4,43.3 587.1,38.5 585.7,33.6" fill="none" stroke="#60ee2a" stroke-width="1.2"/><path fill="#28e048" d="M588.7 43.4L588.1 42.7L587.1 42.8L586.3 43.1L586.8 44.1L587.7 45L588.5 44.6ZM587.5 39L587.3 38.4L586.8 38.6L586.4 39.1L586.5 39.9L586.8 40.5L587.3 40.1Z"/><path fill="#2fe046" d="M595.6 78.3L589.6 76.7L581.6 75.7L575.6 74.8L581.5 78L589.4 80.6L595.5 80.2ZM593.1 78.8L590.7 75.7L592.2 79.3ZM592.2 78.7L588.8 84.4L593.1 79.3ZM590.2 78.4L588.1 75.7L589.4 78.9ZM589.4 78.4L586.4 83.5L590.2 79ZM587.4 77.9L585.5 75.6L586.5 78.4ZM586.5 77.9L583.9 82.4L587.4 78.5ZM584.5 77.3L582.9 75.3L583.7 77.8ZM583.7 77.2L581.6 81.1L584.5 77.8ZM581.7 76.5L580.3 75L580.8 77ZM580.9 76.5L579.3 79.5L581.7 77.1ZM578.9 75.6L577.8 74.7L578 76.1ZM578.1 75.6L577.1 77.7L578.9 76.1ZM595 74L589.6 72.5L582.3 71.5L576.8 70.7L582.2 73.7L589.4 76.1L594.9 75.8ZM592.7 74.4L591.3 72.8L591.9 74.9ZM591.9 74.4L590.2 77.6L592.7 75ZM590.2 74.1L588.8 72.7L589.3 74.6ZM589.3 74L587.8 76.9L590.1 74.6ZM587.6 73.6L586.3 72.4L586.7 74.1ZM586.7 73.6L585.5 76.1L587.5 74.2ZM585 73L583.9 72.1L584.1 73.5ZM584.1 73L583.1 75.2L584.9 73.6ZM582.4 72.3L581.4 71.6L581.5 72.8ZM581.6 72.3L580.9 74.1L582.4 72.8ZM579.8 71.5L579.1 71.1L579 71.9ZM579 71.4L578.7 72.7L579.8 72ZM594.2 69.7L589.8 68.6L584 68.3L579.6 68L584 70.3L589.8 72L594.2 71.4ZM593.6 65.3L589.7 63.9L584.5 63.1L580.6 62.4L584.3 65L589.4 67.1L593.4 66.9ZM592.8 61L590 59.7L586.1 59.2L583.2 58.9L585.9 61L589.6 62.7L592.6 62.5ZM591.9 56.6L589.6 55.5L586.5 55L584.1 54.8L586.3 56.7L589.2 58.3L591.7 58ZM590.8 52.2L589.2 51.4L586.9 51.4L585.1 51.5L586.8 52.9L589 54L590.8 53.6ZM589.9 47.8L588.8 46.9L587.1 46.8L585.8 47L586.8 48.3L588.3 49.4L589.6 49.1Z"/><path fill="#3be83a" d="M589.1 44.3L590 44.1L590 43L589.6 41.9L588.8 42.2L588 42.7L588.1 43.7ZM587.9 39.9L588.5 39.9L588.3 39.2L587.9 38.5L587.2 38.4L586.7 38.6L587 39.2Z"/><path fill="#60ee2a" d="M596 80.1L601.5 77.3L607 71.1L610.5 65.4L605.8 69.2L599.3 74.1L595 78.4ZM597.7 78.1L603.9 80.3L598.1 77.2ZM598.4 77.6L597.9 73.8L597.4 77.6ZM600 76.3L605.6 78.3L600.4 75.4ZM600.7 75.9L600.2 72.4L599.7 75.9ZM602.2 74.5L607.1 76.1L602.6 73.6ZM602.9 74L602.4 71L601.9 74ZM604.3 72.5L608.5 73.8L604.7 71.6ZM605 72L604.5 69.5L604 72ZM606.4 70.4L609.7 71.3L606.8 69.5ZM607.1 69.9L606.6 68L606.1 69.9ZM608.4 68.2L610.6 68.7L608.8 67.3ZM609.1 67.7L608.6 66.4L608.1 67.7ZM595.5 75.6L600.2 72.3L604.5 65.7L606.9 59.9L603 64.1L597.8 69.5L594.3 74.2ZM596.8 73.5L600.5 74L597 72.6ZM597.4 73L596.6 70.9L596.4 73.1ZM598.6 71.6L602 72L598.9 70.6ZM599.3 71L598.5 69.2L598.3 71.2ZM600.5 69.5L603.4 69.8L600.7 68.6ZM601.1 69L600.3 67.4L600.1 69.1ZM602.2 67.4L604.7 67.6L602.4 66.4ZM602.8 66.8L602.1 65.5L601.8 67ZM603.8 65.2L605.8 65.2L604.1 64.2ZM604.4 64.6L603.8 63.6L603.4 64.8ZM605.3 62.8L606.7 62.7L605.6 61.9ZM606 62.3L605.4 61.6L605 62.4ZM594.8 71.1L598.6 68.3L601.8 62.6L603.4 57.6L600.3 61.2L596.2 65.8L593.6 69.9ZM594 66.7L597.2 64.7L599.8 60.3L601.2 56.4L598.5 58.9L595 62.3L593 65.5ZM593.2 62.2L595.6 60.4L597.1 56.6L597.6 53.3L595.7 55.5L593.3 58.5L592.1 61.2ZM592.3 57.8L594.3 56.3L595.6 53.1L595.9 50.2L594.3 52L592.2 54.5L591.2 56.9ZM591.3 53.3L592.9 52.3L593.6 49.9L593.8 47.7L592.4 48.9L590.8 50.6L590.3 52.5ZM590.2 48.9L591.4 48.3L591.8 46.6L591.7 45L590.6 45.7L589.5 46.7L589.3 48.1ZM595.7 78.2L601.2 73.5L606.8 65.7L610.3 59.2L605 64L598.3 70.8L594.3 76.8ZM596.7 76L602.9 76.6L596.9 75.1ZM597.3 75.4L595.2 69.5L596.3 75.7ZM598.5 74.1L604.2 74.6L598.6 73.1ZM599 73.4L597.1 68L598.1 73.7ZM600.2 72.1L605.5 72.5L600.4 71.1ZM600.8 71.5L599 66.5L599.8 71.7ZM601.9 70.1L606.6 70.4L602.1 69.1ZM602.5 69.4L600.9 65L601.5 69.7ZM603.6 68L607.8 68.2L603.8 67ZM604.2 67.4L602.7 63.6L603.2 67.7ZM605.3 66L608.8 66.1L605.5 65ZM605.9 65.3L604.5 62.1L604.9 65.6ZM607 63.9L609.7 63.9L607.2 62.9ZM607.6 63.3L606.4 60.8L606.6 63.5ZM608.6 61.8L610.5 61.6L608.8 60.8ZM609.2 61.2L608.3 59.6L608.2 61.4Z"/><path fill="#60f030" d="M588.7 43.7L588.2 43.2L587.4 43.1L586.7 43.3L587.2 44L587.9 44.5L588.5 44.4ZM587.5 39.2L587.3 38.8L586.9 38.9L586.6 39.2L586.7 39.7L587 40.1L587.3 39.9Z"/><path fill="#a4ee22" d="M595.5 78.7L590.8 77.6L584.4 76.6L579.6 75.7L584.3 78L590.7 79.9L595.5 79.8ZM594.9 74.3L590.6 73.3L584.8 72.4L580.5 71.6L584.7 73.7L590.5 75.5L594.9 75.4ZM594.2 70L590.7 69.3L586 68.9L582.5 68.5L586 70.2L590.7 71.4L594.2 71ZM593.5 65.6L590.5 64.7L586.3 63.9L583.2 63.2L586.2 65L590.3 66.6L593.4 66.6ZM592.7 61.3L590.5 60.4L587.4 59.9L585.1 59.5L587.2 61L590.3 62.2L592.6 62.2ZM591.8 56.9L590 56.1L587.5 55.7L585.7 55.3L587.4 56.7L589.8 57.8L591.7 57.7ZM590.8 52.5L589.5 51.9L587.6 51.8L586.3 51.8L587.6 52.8L589.4 53.5L590.8 53.3ZM589.8 48.1L588.9 47.5L587.6 47.3L586.6 47.3L587.4 48.2L588.6 48.9L589.7 48.8Z"/><path fill="#8cf02a" d="M588.9 44.2L589.5 43.9L589.6 43.1L589.4 42.3L588.9 42.6L588.3 43.1L588.3 43.8ZM587.7 39.7L588.1 39.7L588 39.2L587.8 38.7L587.4 38.7L587 38.9L587.1 39.4Z"/><path fill="#c8f020" d="M595.8 79.7L600.1 77.4L604.6 72.6L607.5 68.2L603.8 71.4L598.8 75.4L595.2 78.7ZM595.3 75.3L598.9 72.5L602.4 67.4L604.5 62.9L601.6 66.4L597.4 70.9L594.5 74.5ZM594.6 70.9L597.5 68.5L600.1 64.1L601.6 60.2L599.2 63.2L596 67L593.9 70.1ZM593.8 66.5L596.2 64.8L598.4 61.4L599.7 58.3L597.7 60.5L594.9 63.3L593.2 65.8ZM593 62L594.8 60.5L596.1 57.5L596.6 55L595.2 56.8L593.4 59.3L592.3 61.4ZM592.1 57.6L593.6 56.3L594.7 53.8L595.1 51.6L593.9 53.2L592.3 55.2L591.4 57ZM591.1 53.1L592.3 52.2L593 50.4L593.2 48.7L592.2 49.8L591 51.2L590.5 52.6ZM590 48.7L590.9 48.2L591.3 46.9L591.3 45.7L590.6 46.3L589.7 47.2L589.5 48.2ZM595.4 77.9L599.7 74.1L604.3 67.9L607.3 62.9L603.2 66.9L597.9 72.4L594.6 77.1Z"/><path fill="#b8f028" d="M588.7 43.8L588.3 43.5L587.8 43.5L587.3 43.5L587.7 43.9L588.1 44.3L588.6 44.2ZM587.5 39.4L587.3 39.1L587.1 39.2L586.8 39.3L587 39.6L587.2 39.8L587.4 39.7Z"/><path fill="#f4d81a" d="M595.5 78.9L592.2 78.3L587.9 77.6L584.6 76.8L587.8 78.3L592.2 79.5L595.5 79.5ZM594.9 74.6L591.9 74L588 73.3L585 72.6L587.9 74L591.9 75.1L594.9 75.2ZM594.2 70.2L591.8 69.8L588.6 69.5L586.2 69.1L588.6 70.2L591.8 70.9L594.2 70.8ZM593.5 65.9L591.4 65.3L588.5 64.7L586.4 64.1L588.5 65.3L591.3 66.3L593.5 66.4ZM592.7 61.5L591.1 61L589 60.6L587.4 60.2L589 61.1L591 61.9L592.6 62ZM591.8 57.1L590.6 56.6L588.9 56.3L587.6 56L588.8 56.8L590.4 57.5L591.7 57.5ZM590.8 52.7L589.9 52.4L588.6 52.2L587.7 52.2L588.6 52.7L589.8 53.2L590.8 53.1ZM589.8 48.3L589.2 47.9L588.3 47.7L587.6 47.6L588.2 48.2L589 48.7L589.7 48.7Z"/><path fill="#e6ee1c" d="M588.8 44.1L589.1 43.9L589.2 43.3L589.2 42.8L588.9 43.1L588.5 43.5L588.5 43.9ZM587.6 39.6L587.8 39.6L587.8 39.3L587.7 39L587.4 39L587.2 39.2L587.3 39.4Z"/><path fill="#ffc01a" d="M595.7 79.5L598.5 77.8L601.7 74.6L603.8 71.6L601.3 73.9L597.9 76.8L595.3 79ZM595.1 75.1L597.5 73.1L600 69.7L601.5 66.6L599.6 69.1L596.8 72.3L594.7 74.7ZM594.4 70.7L596.4 69L598.2 66L599.3 63.4L597.7 65.5L595.6 68.2L594 70.3ZM593.7 66.3L595.3 65.1L596.8 62.8L597.7 60.8L596.4 62.3L594.6 64.3L593.3 65.9ZM592.9 61.9L594 60.8L594.9 58.8L595.4 57.1L594.5 58.4L593.3 60.1L592.5 61.6ZM591.9 57.5L592.9 56.5L593.7 54.9L594.1 53.4L593.3 54.5L592.2 56L591.6 57.2ZM591 53L591.7 52.4L592.2 51.1L592.4 50L591.8 50.8L591 51.8L590.6 52.8ZM589.9 48.6L590.4 48.2L590.7 47.3L590.8 46.6L590.4 47L589.8 47.7L589.6 48.3ZM595.2 77.7L598.1 75L601.3 70.8L603.4 67.4L600.7 70.3L597.2 74.1L594.8 77.3Z"/><polyline points="595.8,81.6 595.2,76.9 594.5,72.1 593.7,67.4 592.8,62.6 591.9,57.8 590.8,53 589.7,48.2 588.4,43.3 587.1,38.5 585.7,33.6" fill="none" stroke="#c8f020" stroke-width="0.6"/></g>
<g filter="url(#soft)"><path fill="#20a0ff" d="M633.7 49.2L635.1 49.1L635.6 47.4L635.4 45.6L634.1 45.8L632.7 46.5L632.5 47.9ZM633.1 45L634.2 45.1L634.2 43.9L633.7 42.6L632.7 42.5L631.7 42.7L631.9 43.8Z"/><path fill="#20d0a0" d="M631.3 79.6L638.2 78.9L646.5 74.2L652.3 69.2L645.8 71.3L637 73.9L630.7 77.1ZM633.1 78.3L638.6 82.3L634.3 77ZM634.6 77.9L635.1 73.7L632.9 77.3ZM635.7 77.5L640.8 81.1L637 76.2ZM637.2 77.1L637.6 73.2L635.5 76.5ZM638.4 76.5L643 79.8L639.6 75.2ZM639.8 76.2L640.1 72.5L638.1 75.6ZM640.9 75.5L645.2 78.3L642.2 74.2ZM642.4 75.1L642.6 71.8L640.7 74.5ZM643.5 74.3L647.2 76.6L644.8 73ZM645 74L645 71.1L643.3 73.4ZM646.1 73L649.2 74.8L647.3 71.7ZM647.5 72.7L647.4 70.2L645.8 72.1ZM648.6 71.6L651 72.7L649.8 70.3ZM650 71.3L649.8 69.4L648.3 70.7ZM632.4 74L638 73.4L644.7 69.3L649.3 64.9L643.9 66.5L636.8 68.8L631.7 71.7ZM634.3 72.6L637.5 74.3L635.5 71.3ZM635.8 72.2L635.6 69.8L634.1 71.7ZM637.2 71.6L640.1 73.1L638.4 70.3ZM638.6 71.2L638.4 69L636.9 70.7ZM640 70.4L642.6 71.6L641.2 69.1ZM641.4 70L641.1 68L639.7 69.5ZM642.7 69.1L645 69.9L643.9 67.7ZM644.2 68.7L643.8 66.9L642.4 68.1ZM633.2 68.6L637.7 67.6L642.5 63.4L645.5 59.1L641.4 60.9L635.9 63.4L632.3 66.5ZM633.7 63.5L637.4 62.7L641.1 59.2L643.4 55.6L640 56.9L635.6 58.9L632.8 61.5ZM634 58.5L636.6 57.8L638.6 54.7L639.6 51.7L637.3 52.8L634.4 54.5L632.9 56.8ZM634 53.7L635.9 53.3L637 51L637.4 48.6L635.6 49.2L633.6 50.4L632.8 52.3ZM631.5 78.7L639.2 76.6L648.2 71L654.5 65.8L647 68.2L637.1 71.9L630.5 76.3ZM632.8 77.2L638.8 80.1L633.8 75.7ZM634.2 76.6L634.4 70L632.4 76.3ZM635.2 76.2L640.8 78.8L636.2 74.7ZM636.5 75.6L636.6 69.3L634.8 75.3ZM637.5 75.1L642.8 77.5L638.5 73.6ZM638.9 74.5L638.9 68.7L637.1 74.2ZM639.8 74L644.7 76.2L640.8 72.5ZM641.2 73.4L641.1 68L639.4 73.1ZM642.1 72.9L646.6 74.8L643.1 71.4ZM643.5 72.3L643.3 67.4L641.7 72ZM644.4 71.7L648.4 73.3L645.4 70.2ZM645.7 71.1L645.5 66.7L644 70.8ZM646.6 70.5L650.2 71.8L647.6 69ZM648 69.9L647.7 66.1L646.2 69.6ZM648.9 69.3L651.9 70.3L649.9 67.8ZM650.3 68.7L649.9 65.6L648.5 68.4ZM651.1 68.1L653.5 68.6L652.1 66.6ZM652.5 67.5L652 65.2L650.8 67.2Z"/><path fill="#58e840" d="M633.7 47.9L633.5 46.5L632.1 45.8L630.7 45.7L630.7 47.4L631.1 49.2L632.5 49.3ZM633 43.7L633 42.6L632 42.6L631 42.9L630.8 44.2L631 45.4L632 45.1Z"/><path fill="#8cf030" d="M632 77.6L629.8 72L625.5 65.6L622.1 60.8L623 67.4L625.7 75L630 79.1ZM630.3 76.5L630.8 72.8L628.6 75.8ZM629.4 75.3L623.8 76.5L629.5 77.1ZM628.9 74.2L629.2 70.8L627.2 73.6ZM628 73L622.9 74.2L628.1 74.8ZM627.6 71.9L627.8 68.8L625.9 71.2ZM626.7 70.7L622.1 71.9L626.8 72.5ZM626.3 69.5L626.4 66.7L624.7 68.8ZM625.4 68.2L621.5 69.4L625.6 70ZM625.2 67L625.1 64.6L623.5 66.3ZM624.3 65.8L621.1 66.9L624.4 67.5ZM624.2 64.4L623.9 62.6L622.5 63.8ZM623.3 63.2L621 64.2L623.4 65ZM633 72.1L630.8 67.1L626.5 61.4L623.3 57.3L624.3 63.2L627.1 70.1L631.1 73.6ZM631.2 70.9L631 68.5L629.5 70.3ZM630.2 69.7L627 71L630.4 71.5ZM629.6 68.5L629.4 66.4L627.9 68ZM628.6 67.4L625.8 68.6L628.8 69.1ZM628.1 66.1L627.8 64.1L626.4 65.5ZM627.2 64.9L624.7 66.1L627.4 66.7ZM626.8 63.5L626.4 61.8L625.1 63ZM625.8 62.4L623.8 63.5L626 64.2ZM633.7 66.8L632.1 62.8L628.7 58.6L626 55.6L626.6 60.3L628.6 65.7L631.9 68.3ZM634 61.8L632.7 58.6L629.7 55.6L627.3 53.5L627.9 57.3L629.7 61.5L632.5 63.2ZM634.2 56.9L633.1 54.4L630.6 52.4L628.4 51.2L628.9 54.2L630.4 57.4L632.8 58.4ZM634.1 52.3L633.6 50.4L631.7 49.1L630 48.3L630.1 50.7L630.9 53.1L632.8 53.7ZM630.1 77.2L627.2 70.6L621.2 63.4L616.2 58.2L618.5 65.3L622.7 73.8L627.9 78.8ZM628.4 76.3L629.7 70.4L626.7 75.6ZM627.5 75L621.6 76.2L627.6 76.8ZM626.9 74.2L628.1 68.7L625.3 73.5ZM626 73L620.6 74.1L626.1 74.8ZM625.5 72.1L626.5 67L623.8 71.4ZM624.6 70.9L619.6 72L624.7 72.7ZM624.1 70L625 65.4L622.4 69.3ZM623.2 68.7L618.7 69.9L623.3 70.5ZM622.7 67.8L623.4 63.7L621.1 67.2ZM621.8 66.6L617.8 67.7L621.9 68.4ZM621.4 65.7L621.8 62.1L619.7 65ZM620.5 64.5L617 65.6L620.6 66.3ZM620.1 63.5L620.3 60.5L618.4 62.9ZM619.2 62.3L616.3 63.4L619.3 64.1ZM618.7 61.4L618.7 59.1L617.1 60.7ZM617.9 60.1L615.8 61.1L618 61.9Z"/><polyline points="630.5,80.8 631.5,75.9 632.3,71.2 632.9,66.7 633.3,62.3 633.5,58.1 633.5,54 633.3,50.1 632.8,46.4 632.2,42.8 631.4,39.4" fill="none" stroke="#60ee2a" stroke-width="1.2"/><path fill="#3be83a" d="M633.5 49L634.6 48.8L635 47.5L635 46.1L634 46.4L632.9 47L632.7 48.1ZM632.9 44.8L633.6 44.9L633.6 44.1L633.3 43.2L632.6 43.1L632 43.3L632.1 44Z"/><path fill="#60ee2a" d="M631.3 79.3L637.9 78.4L645.9 74.1L651.7 69.5L645.4 71.7L636.9 74.5L630.8 77.4ZM633.4 78L638.1 81.9L634 77.3ZM634.2 77.8L634.9 74.3L633.2 77.5ZM636 77.2L640.4 80.7L636.7 76.5ZM636.8 77L637.4 73.7L635.9 76.6ZM638.6 76.2L642.6 79.3L639.3 75.5ZM639.4 76L639.9 73.1L638.5 75.7ZM641.2 75.2L644.7 77.9L641.9 74.5ZM642 75L642.4 72.4L641.1 74.7ZM643.8 74L646.8 76.2L644.5 73.3ZM644.6 73.8L644.8 71.6L643.7 73.5ZM646.3 72.7L648.8 74.4L647 72ZM647.1 72.5L647.2 70.8L646.2 72.2ZM648.8 71.4L650.6 72.3L649.5 70.6ZM649.7 71.2L649.6 69.9L648.7 70.8ZM632.3 73.7L637.7 72.9L644.1 69.2L648.7 65.2L643.6 67L636.7 69.4L631.8 71.9ZM634.6 72.3L637.1 73.9L635.3 71.6ZM635.4 72.1L635.4 70.4L634.4 71.8ZM637.4 71.3L639.6 72.7L638.1 70.6ZM638.2 71.1L638.2 69.5L637.3 70.8ZM640.2 70.1L642.1 71.2L640.9 69.4ZM641 69.9L640.9 68.6L640.1 69.6ZM643 68.8L644.6 69.5L643.6 68ZM643.8 68.5L643.6 67.5L642.8 68.2ZM633.1 68.3L637.3 67.2L641.9 63.3L644.9 59.5L641.1 61.4L636 64L632.4 66.8ZM633.6 63.2L637 62.3L640.5 59.2L642.8 56L639.8 57.5L635.7 59.5L632.9 61.8ZM633.9 58.2L636.1 57.4L638 54.8L639.1 52.2L637.1 53.4L634.5 55L633.1 57ZM633.8 53.5L635.4 53L636.5 51.1L636.9 49.1L635.5 49.8L633.7 50.9L633 52.5ZM631.4 78.4L638.8 76.2L647.6 70.9L653.9 66.1L646.7 68.7L637.2 72.5L630.6 76.6ZM633.1 76.9L638.3 79.8L633.6 76.1ZM633.8 76.5L634.3 70.6L632.8 76.4ZM635.4 75.8L640.3 78.5L635.9 75ZM636.2 75.5L636.5 69.9L635.2 75.3ZM637.7 74.8L642.3 77.2L638.3 73.9ZM638.5 74.4L638.8 69.2L637.5 74.3ZM640 73.6L644.2 75.8L640.6 72.8ZM640.8 73.3L641 68.6L639.8 73.2ZM642.3 72.5L646.1 74.4L642.9 71.7ZM643.1 72.2L643.2 68L642.1 72ZM644.6 71.4L647.9 73L645.1 70.5ZM645.4 71L645.4 67.3L644.4 70.9ZM646.9 70.2L649.7 71.5L647.4 69.4ZM647.6 69.9L647.6 66.7L646.6 69.7ZM649.1 69L651.4 69.9L649.7 68.2ZM649.9 68.7L649.8 66.2L648.9 68.5ZM651.4 67.8L653 68.3L651.9 67ZM652.1 67.5L651.9 65.8L651.2 67.3Z"/><path fill="#dcea20" d="M633.5 48.1L633.3 47L632.2 46.4L631.2 46.2L631.2 47.6L631.6 48.9L632.7 49.1ZM632.9 43.9L632.9 43.2L632.2 43.2L631.5 43.4L631.4 44.3L631.5 45.1L632.2 44.9Z"/><path fill="#ffd820" d="M631.8 77.7L629.5 72.5L625.4 66.2L622.4 61.4L623.5 67.6L626.3 74.9L630.2 78.9ZM630 76.3L630.5 73.4L629 76ZM629.5 75.7L624.4 76.5L629.5 76.7ZM628.5 74.1L629 71.4L627.6 73.7ZM628 73.4L623.5 74.2L628.1 74.4ZM627.2 71.7L627.5 69.4L626.3 71.4ZM626.7 71.1L622.7 71.8L626.8 72.1ZM626 69.3L626.2 67.3L625 69ZM625.5 68.6L622.1 69.4L625.5 69.6ZM624.8 66.8L624.9 65.2L623.9 66.5ZM624.3 66.2L621.7 66.8L624.4 67.2ZM623.8 64.3L623.7 63.1L622.9 63.9ZM623.3 63.6L621.6 64.2L623.4 64.6ZM632.8 72.3L630.5 67.6L626.5 62L623.6 57.9L624.8 63.4L627.6 69.9L631.3 73.4ZM630.8 70.8L630.8 69.1L629.9 70.4ZM630.3 70.1L627.6 70.9L630.4 71.1ZM629.2 68.4L629.2 66.9L628.3 68.1ZM628.7 67.8L626.4 68.5L628.8 68.8ZM627.8 66L627.6 64.7L626.8 65.7ZM627.2 65.3L625.3 66L627.3 66.3ZM626.4 63.4L626.2 62.4L625.5 63.1ZM625.9 62.8L624.4 63.4L626 63.8ZM633.4 67L631.8 63.4L628.7 59.2L626.3 56.2L627.1 60.5L629.2 65.5L632.1 68.1ZM633.8 61.9L632.5 59.1L629.8 56.2L627.7 54.1L628.4 57.5L630.2 61.3L632.7 63ZM634 57.1L632.9 55L630.7 53.1L628.9 51.7L629.5 54.3L630.9 57.1L633 58.2ZM633.9 52.5L633.3 50.9L631.8 49.7L630.4 48.9L630.6 50.8L631.5 52.8L633 53.5ZM629.9 77.4L626.9 71.1L621.2 64L616.6 58.8L619.1 65.5L623.3 73.7L628.1 78.6ZM628 76.1L629.5 71L627.1 75.8ZM627.5 75.4L622.2 76.2L627.6 76.4ZM626.6 74L627.9 69.3L625.6 73.7ZM626.1 73.4L621.2 74.1L626.1 74.4ZM625.1 71.9L626.3 67.6L624.2 71.6ZM624.6 71.3L620.2 72L624.7 72.3ZM623.7 69.8L624.7 65.9L622.8 69.5ZM623.2 69.1L619.3 69.9L623.3 70.1ZM622.4 67.7L623.2 64.3L621.4 67.3ZM621.9 67L618.4 67.7L621.9 68ZM621 65.6L621.6 62.6L620.1 65.2ZM620.5 64.9L617.6 65.5L620.6 65.9ZM619.7 63.4L620.1 61.1L618.8 63ZM619.2 62.7L616.9 63.3L619.2 63.7ZM618.4 61.2L618.5 59.6L617.4 60.8ZM617.9 60.5L616.4 61.1L617.9 61.5Z"/><path fill="#8cf02a" d="M633.4 48.9L634.1 48.6L634.5 47.6L634.6 46.6L633.9 46.9L633.1 47.5L632.9 48.3ZM632.8 44.6L633.2 44.6L633.3 44L633.2 43.4L632.7 43.5L632.2 43.6L632.3 44.1Z"/><path fill="#c8f020" d="M631.2 78.9L636.4 78L642.9 74.7L647.5 71.3L642.6 73.3L635.8 75.7L630.9 77.8ZM632.2 73.4L636.5 72.6L641.7 69.7L645.3 66.7L641.3 68.4L635.9 70.4L631.9 72.3ZM633 68L636.3 66.9L640 64L642.5 61.1L639.5 62.9L635.5 65.1L632.6 67.1ZM633.5 62.9L636.1 62.1L639 59.7L640.9 57.3L638.5 58.6L635.3 60.4L633.1 62.1ZM633.7 58L635.4 57.2L637 55.2L638 53.3L636.4 54.4L634.5 55.8L633.2 57.3ZM633.7 53.3L634.9 52.8L635.8 51.3L636.2 49.9L635.2 50.6L633.9 51.6L633.2 52.7ZM631.2 78.1L637.1 76.1L644.2 72L649.3 68.4L643.6 70.7L636.1 73.9L630.8 76.9Z"/><path fill="#ffb41a" d="M633.4 48.3L633.1 47.5L632.3 47L631.6 46.7L631.7 47.7L632.1 48.6L632.9 48.9ZM632.7 44.1L632.7 43.6L632.2 43.5L631.7 43.6L631.7 44.2L631.9 44.7L632.3 44.7Z"/><path fill="#ff8a1a" d="M631.5 78L629.5 73.9L626.4 68.8L624.2 64.8L625.2 69.6L627.6 75.3L630.5 78.7ZM632.5 72.5L630.5 68.9L627.5 64.3L625.3 60.9L626.4 65.2L628.8 70.2L631.6 73.2ZM633.2 67.2L631.7 64.4L629.4 61L627.6 58.5L628.4 61.8L630.2 65.7L632.4 67.9ZM633.6 62.2L632.4 60L630.3 57.6L628.8 55.8L629.5 58.4L631 61.3L632.9 62.8ZM633.8 57.3L632.8 55.7L631.1 54.1L629.8 52.9L630.4 54.9L631.6 57L633.2 58ZM633.7 52.7L633.2 51.5L632 50.5L631 49.7L631.3 51.1L632.1 52.7L633.1 53.3ZM629.5 77.6L626.9 72.7L622.6 66.9L619.1 62.7L621.3 67.8L624.8 74.3L628.5 78.4Z"/><path fill="#e6ee1c" d="M633.2 48.7L633.7 48.5L634 47.9L634.1 47.2L633.7 47.5L633.2 47.9L633 48.4ZM632.7 44.5L632.9 44.5L633 44.1L633 43.7L632.7 43.8L632.4 44L632.4 44.3Z"/><path fill="#ffc01a" d="M631.1 78.7L634.7 77.9L639.2 75.7L642.4 73.5L639 75L634.4 76.7L630.9 78ZM632.1 73.1L635 72.5L638.6 70.6L641.2 68.6L638.4 69.9L634.7 71.3L632 72.6ZM632.9 67.8L635.1 67L637.7 65L639.5 63.1L637.4 64.4L634.7 66L632.7 67.3ZM633.4 62.7L635.1 62.1L637.2 60.5L638.5 58.9L636.9 59.9L634.7 61.2L633.2 62.3ZM633.6 57.8L634.8 57.3L635.9 55.9L636.6 54.7L635.6 55.4L634.2 56.5L633.4 57.4ZM633.6 53.2L634.3 52.8L635 51.8L635.3 50.9L634.7 51.4L633.8 52.1L633.3 52.8ZM631.1 77.8L635.1 76.3L640 73.6L643.6 71.2L639.7 72.9L634.6 75.2L630.9 77.2Z"/><path fill="#ff5a1a" d="M633.2 48.4L633 47.9L632.5 47.5L632.1 47.3L632.2 47.9L632.5 48.5L633 48.7ZM632.6 44.2L632.6 43.9L632.3 43.8L632 43.8L632 44.2L632.1 44.5L632.4 44.5Z"/><path fill="#ff3a1a" d="M631.3 78.1L629.8 75.4L627.7 71.8L626.3 69L627.1 72.3L628.8 76.2L630.8 78.5ZM632.3 72.7L630.9 70.2L628.8 67.1L627.4 64.6L628.3 67.5L629.9 71L631.8 73ZM633 67.4L631.9 65.5L630.4 63.1L629.2 61.3L629.9 63.5L631.1 66.2L632.6 67.7ZM633.5 62.3L632.6 60.9L631.2 59.2L630.2 57.9L630.7 59.6L631.8 61.6L633.1 62.7ZM633.6 57.5L632.9 56.4L631.8 55.3L630.9 54.4L631.4 55.7L632.3 57.1L633.3 57.8ZM633.6 52.9L633.2 52.1L632.4 51.3L631.8 50.7L632 51.7L632.6 52.7L633.3 53.2ZM629.3 77.8L627.4 74.5L624.5 70.5L622.2 67.5L623.8 70.9L626.3 75.3L628.7 78.2Z"/><polyline points="630.5,80.8 631.5,75.9 632.3,71.2 632.9,66.7 633.3,62.3 633.5,58.1 633.5,54 633.3,50.1 632.8,46.4 632.2,42.8 631.4,39.4" fill="none" stroke="#c8f020" stroke-width="0.6"/></g>
<g filter="url(#soft)"><path fill="#20a0ff" d="M503.3 110.7L503.3 109.7L502.4 109.8L501.5 110.1L501.3 111.4L501.4 112.5L502.3 112.1ZM503.5 111.9L504.5 111.9L504.2 110.9L503.6 109.8L502.6 109.8L501.7 110L502.1 110.9Z"/><path fill="#20d0a0" d="M503.9 115.2L503.5 114L502.3 113.9L501.1 114.1L501.3 115.7L501.9 117L503.1 116.7ZM504.1 116.5L505.3 116.4L505.4 114.9L505 113.4L503.9 113.6L502.7 114.2L502.8 115.4Z"/><path fill="#58e840" d="M507.5 158.3L502.5 153.9L495.1 149.5L489.6 146.1L493.7 152.1L500.2 158.3L506.4 160.5ZM505.6 158L504.3 153.5L503.8 158.2ZM504.2 157.3L498.1 161.8L505.1 158.9ZM503.3 156.7L502.1 152.5L501.5 156.8ZM502 156L496.4 160.2L502.9 157.5ZM501.2 155.2L499.9 151.4L499.4 155.4ZM499.8 154.5L494.8 158.4L500.7 156.1ZM499 153.7L497.8 150.3L497.2 153.8ZM497.7 153L493.3 156.5L498.6 154.5ZM497 152L495.8 149.1L495.2 152.2ZM495.6 151.3L491.9 154.4L496.5 152.9ZM494.9 150.3L493.8 147.9L493.2 150.4ZM493.6 149.6L490.7 152.3L494.5 151.1ZM493 148.4L491.9 146.7L491.2 148.6ZM491.6 147.7L489.7 149.9L492.5 149.3ZM507.5 160.5L514.1 158L521.1 151.3L525.5 144.9L519.6 148.7L511.7 153.6L506.3 158.3ZM509 158.8L516.5 161.9L509.8 157.2ZM510.3 158.1L509.8 153L508.5 157.9ZM511.4 157.3L518.3 160.1L512.2 155.7ZM512.7 156.6L512.2 151.9L510.9 156.4ZM513.7 155.7L520 158.2L514.6 154.1ZM515 155L514.5 150.8L513.2 154.8ZM516 154L521.6 156.1L516.9 152.4ZM517.3 153.3L516.7 149.5L515.5 153.1ZM518.2 152.2L523.1 153.9L519.1 150.6ZM519.5 151.5L518.9 148.2L517.7 151.3ZM520.4 150.3L524.4 151.5L521.2 148.7ZM521.7 149.6L521 146.8L519.9 149.4ZM522.5 148.3L525.5 148.9L523.4 146.7ZM523.8 147.6L523.1 145.5L522 147.4ZM507.4 153.3L502.4 148.9L495.1 144.3L489.7 140.9L493.7 146.9L500.1 153.1L506.2 155.4ZM505.1 152.8L504 149.9L503.3 152.9ZM503.8 152.1L500.1 155.1L504.6 153.7ZM502.6 151.2L501.5 148.5L500.8 151.3ZM501.3 150.5L498 153.3L502.1 152ZM500.2 149.5L499.1 147.1L498.4 149.6ZM498.8 148.7L495.9 151.4L499.7 150.3ZM497.8 147.6L496.7 145.5L496 147.7ZM496.5 146.9L494 149.3L497.3 148.5ZM495.5 145.6L494.5 143.8L493.7 145.7ZM494.2 144.9L492.2 147L495 146.5ZM493.3 143.5L492.3 142.2L491.5 143.6ZM491.9 142.8L490.6 144.5L492.8 144.4ZM507.4 155.4L512.9 153L518.4 146.9L521.7 141.1L516.9 144.4L510.4 148.9L506.2 153.3ZM508.7 153.7L513 154.7L509.4 152ZM510 152.9L509.1 150.1L508.2 152.8ZM510.9 152.1L514.8 152.9L511.6 150.4ZM512.2 151.3L511.3 148.7L510.4 151.2ZM513 150.3L516.6 151L513.8 148.7ZM514.3 149.5L513.4 147.2L512.5 149.5ZM515.1 148.5L518.2 149L515.8 146.9ZM516.3 147.7L515.5 145.7L514.5 147.7ZM517 146.6L519.7 146.8L517.8 144.9ZM518.3 145.8L517.4 144L516.5 145.7ZM519 144.5L521 144.5L519.7 142.9ZM520.2 143.7L519.4 142.4L518.4 143.7ZM507.1 148.3L502.9 144.6L496.6 141.1L491.8 138.4L495.3 143.5L500.8 148.7L506.1 150.4ZM507.3 150.3L512.1 147.7L516.5 141.6L519 136L514.8 139.5L509.3 144.1L505.9 148.5ZM506.8 143.4L503.2 140.4L497.7 137.7L493.6 135.9L496.7 140.1L501.4 144.4L505.9 145.4ZM506.9 145.3L511.2 143.5L515.1 138.5L517.4 133.8L513.6 136.3L508.7 139.9L505.7 143.5ZM506.4 138.6L503.4 135.9L498.7 133.7L495.1 132.2L497.7 135.9L501.7 139.7L505.6 140.5ZM506.7 140.4L510.2 138.6L513 134L514.5 129.8L511.4 132.1L507.5 135.4L505.3 138.8ZM506 133.8L503.6 131.5L499.7 129.8L496.7 128.7L498.7 132L502 135.1L505.2 135.7ZM506.3 135.5L509.2 134.1L511.3 130.2L512.3 126.6L509.8 128.4L506.5 131.1L505 134ZM505.6 129.1L503.7 127L500.6 125.7L498.1 125L499.6 127.8L502.1 130.5L504.8 130.8ZM505.8 130.7L508.2 129.7L509.7 126.6L510.2 123.7L508.1 124.9L505.6 126.9L504.5 129.3ZM505.1 124.4L504 122.7L501.6 121.8L499.7 121.4L500.6 123.7L502.2 125.9L504.2 126.1ZM505.4 125.9L507.2 125.1L508 122.5L508 120L506.3 121L504.5 122.6L504 124.6ZM504.5 119.8L503.7 118.3L501.8 117.9L500.3 117.9L500.9 119.8L502.1 121.5L503.7 121.4ZM504.7 121.2L506.3 120.8L506.9 118.8L506.8 116.8L505.3 117.3L503.8 118.3L503.5 120Z"/><polyline points="507,162.4 506.9,156.4 506.6,150.4 506.3,144.5 505.9,138.7 505.4,132.9 504.9,127.3 504.2,121.7 503.5,116.1 502.7,110.7 501.8,105.3" fill="none" stroke="#dcea20" stroke-width="1.2"/><path fill="#3be83a" d="M503.1 111L503.2 110.3L502.6 110.4L502 110.6L501.9 111.5L501.9 112.1L502.5 111.9ZM503.3 111.7L503.9 111.8L503.7 111.2L503.3 110.5L502.6 110.4L502.1 110.5L502.4 111.1Z"/><path fill="#60ee2a" d="M503.8 115.5L503.5 114.6L502.5 114.4L501.7 114.5L501.8 115.7L502.4 116.6L503.2 116.5ZM503.9 116.4L504.8 116.2L504.9 115.1L504.7 114L503.8 114.2L503 114.7L503 115.6Z"/><path fill="#dcea20" d="M507.4 158.5L502.5 154.5L495.4 150L490.2 146.6L494.3 152.1L500.7 157.9L506.5 160.2ZM505.2 158.1L504.3 154.1L504.2 158.2ZM504.4 157.7L498.6 161.5L504.9 158.5ZM502.9 156.7L502.1 153.1L501.9 156.8ZM502.2 156.3L497 159.9L502.7 157.2ZM500.8 155.3L500 152L499.8 155.3ZM500 154.9L495.3 158.1L500.5 155.7ZM498.6 153.7L497.9 150.9L497.6 153.8ZM497.9 153.3L493.8 156.2L498.4 154.2ZM496.6 152.1L495.9 149.7L495.6 152.1ZM495.8 151.7L492.5 154.1L496.3 152.5ZM494.5 150.3L493.9 148.5L493.6 150.4ZM493.8 149.9L491.2 152L494.3 150.8ZM492.6 148.5L492 147.3L491.6 148.5ZM491.8 148.1L490.2 149.6L492.3 148.9ZM507.4 160.2L513.7 157.6L520.5 151.3L525 145.4L519.4 149.2L511.8 154.2L506.5 158.5ZM509.1 158.4L515.9 161.6L509.6 157.6ZM509.9 158L509.7 153.6L508.9 157.9ZM511.5 156.9L517.7 159.8L512 156.1ZM512.3 156.5L512.1 152.5L511.3 156.5ZM513.9 155.3L519.5 157.9L514.4 154.5ZM514.6 154.9L514.4 151.4L513.6 154.9ZM516.2 153.6L521.1 155.8L516.7 152.8ZM516.9 153.2L516.7 150.1L515.9 153.2ZM518.4 151.8L522.6 153.6L518.9 151ZM519.1 151.4L518.8 148.8L518.1 151.4ZM520.6 149.9L523.9 151.2L521.1 149.1ZM521.3 149.5L521 147.4L520.3 149.5ZM522.7 147.9L525 148.6L523.2 147ZM523.4 147.5L523 146.1L522.4 147.4ZM507.2 153.5L502.3 149.5L495.4 144.9L490.2 141.3L494.3 146.9L500.6 152.7L506.4 155.2ZM504.7 152.8L504 150.5L503.7 152.9ZM504 152.4L500.6 154.8L504.5 153.3ZM502.2 151.2L501.6 149.1L501.2 151.3ZM501.5 150.8L498.5 153L502 151.7ZM499.8 149.5L499.1 147.7L498.8 149.6ZM499 149.1L496.5 151.1L499.5 150ZM497.4 147.6L496.8 146.1L496.4 147.7ZM496.7 147.2L494.5 149L497.1 148.1ZM495.1 145.6L494.5 144.4L494.1 145.7ZM494.4 145.2L492.7 146.7L494.8 146.1ZM492.9 143.5L492.3 142.8L491.9 143.6ZM492.1 143.1L491.1 144.2L492.6 144ZM507.3 155.1L512.4 152.6L517.8 146.9L521.2 141.5L516.6 145L510.5 149.5L506.3 153.6ZM508.8 153.3L512.4 154.4L509.3 152.4ZM509.6 152.9L509.1 150.7L508.6 152.8ZM511 151.7L514.3 152.7L511.5 150.8ZM511.8 151.2L511.3 149.3L510.8 151.2ZM513.2 150L516 150.8L513.6 149.1ZM513.9 149.5L513.4 147.8L512.9 149.5ZM515.2 148.1L517.7 148.7L515.7 147.2ZM515.9 147.7L515.5 146.3L514.9 147.7ZM517.2 146.2L519.2 146.6L517.6 145.3ZM517.9 145.8L517.4 144.6L516.9 145.7ZM519.1 144.1L520.5 144.2L519.6 143.2ZM519.8 143.7L519.3 142.9L518.8 143.7ZM507 148.6L502.8 145.2L496.8 141.6L492.4 138.9L495.9 143.5L501.3 148.3L506.2 150.1ZM507.1 150.1L511.6 147.4L515.9 141.7L518.5 136.6L514.7 140.1L509.5 144.6L506.1 148.7ZM506.7 143.7L503.1 141L498 138.3L494.2 136.3L497.2 140.1L501.8 144L506 145.2ZM506.8 145.1L510.7 143.2L514.6 138.6L516.9 134.3L513.5 136.9L508.9 140.5L505.9 143.8ZM506.3 138.9L503.4 136.5L499 134.2L495.7 132.6L498.2 135.9L502.1 139.3L505.7 140.3ZM506.5 140.2L509.7 138.3L512.5 134.1L514 130.3L511.3 132.7L507.7 135.9L505.5 139ZM505.9 134.1L503.6 132.1L500 130.3L497.3 129.1L499.3 131.9L502.4 134.7L505.3 135.4ZM506.1 135.3L508.7 133.8L510.8 130.3L511.9 127.1L509.6 129L506.8 131.6L505.1 134.2ZM505.5 129.4L503.7 127.6L500.8 126.3L498.6 125.4L500.1 127.8L502.5 130.1L504.9 130.6ZM505.6 130.5L507.6 129.5L509.1 126.8L509.8 124.2L508 125.5L505.8 127.4L504.7 129.5ZM505 124.7L503.9 123.3L501.9 122.3L500.3 121.8L501.1 123.7L502.6 125.5L504.4 125.8ZM505.1 125.7L506.7 124.9L507.5 122.6L507.6 120.6L506.3 121.6L504.7 123.1L504.2 124.8ZM504.4 120L503.6 118.9L502.1 118.4L500.9 118.3L501.5 119.8L502.5 121.1L503.8 121.1ZM504.5 121L505.8 120.6L506.3 119L506.4 117.4L505.3 117.9L504 118.9L503.7 120.2Z"/><path fill="#8cf02a" d="M503 111.1L503 110.7L502.6 110.7L502.2 110.8L502.1 111.3L502.2 111.8L502.6 111.7ZM503.1 111.6L503.5 111.6L503.4 111.1L503.2 110.7L502.8 110.7L502.4 110.8L502.5 111.2Z"/><path fill="#c8f020" d="M503.7 115.7L503.4 115.1L502.6 114.9L502 114.8L502.2 115.6L502.7 116.3L503.3 116.3ZM503.8 116.2L504.4 116L504.5 115.2L504.4 114.4L503.9 114.7L503.3 115.1L503.2 115.8Z"/><path fill="#ffb41a" d="M507.2 158.9L503.2 155.8L497.6 152.1L493.5 149.1L496.9 153.3L502.1 157.9L506.7 159.9ZM507.2 159.9L512.1 157.6L517.7 152.7L521.4 148.2L517 151.5L511 155.5L506.7 158.9ZM507.1 153.9L503.1 150.8L497.5 147L493.5 143.9L496.9 148.2L502 152.7L506.5 154.8ZM507.1 154.8L511.1 152.7L515.5 148.2L518.3 144.1L514.8 147.1L509.9 150.8L506.5 153.9ZM506.8 148.9L503.4 146.4L498.7 143.4L495.2 141L498.1 144.5L502.5 148.2L506.3 149.8ZM506.9 149.8L510.4 147.5L513.9 143.1L516.1 139.1L513.2 142.1L509.1 145.9L506.3 149ZM506.5 144L503.6 142L499.6 139.7L496.6 137.9L499.1 140.8L502.8 143.8L506.1 144.9ZM506.6 144.8L509.6 143.2L512.8 139.6L514.8 136.3L512.1 138.6L508.5 141.5L506 144ZM506.2 139.1L503.8 137.4L500.3 135.5L497.8 134L499.9 136.5L503 139L505.8 140ZM506.3 139.9L508.7 138.3L511.1 135.1L512.4 132.2L510.3 134.2L507.5 136.9L505.7 139.2ZM505.8 134.3L503.9 132.9L501 131.4L499 130.2L500.6 132.3L503.1 134.4L505.4 135.1ZM505.9 135.1L507.9 133.8L509.6 131.1L510.6 128.6L508.9 130.3L506.7 132.5L505.3 134.4ZM505.3 129.6L503.9 128.3L501.6 127.2L500 126.3L501.2 128.1L503.2 129.8L505 130.3ZM505.4 130.3L507 129.4L508.2 127.3L508.9 125.4L507.6 126.5L505.9 128.1L504.9 129.7ZM504.9 124.9L503.9 123.9L502.3 123.1L501.1 122.5L501.9 123.9L503.2 125.3L504.5 125.6ZM505 125.5L506.1 124.8L506.8 123.1L507 121.5L506.1 122.4L504.9 123.7L504.4 125ZM504.3 120.3L503.6 119.5L502.4 119L501.5 118.7L502.1 119.8L503 120.8L503.9 120.9ZM504.4 120.9L505.3 120.4L505.8 119.2L505.9 118L505.1 118.6L504.2 119.4L503.8 120.3Z"/><path fill="#e6ee1c" d="M502.9 111.3L502.9 111L502.6 111L502.4 111L502.4 111.3L502.5 111.6L502.7 111.6ZM503 111.5L503.2 111.5L503.2 111.2L503.1 110.9L502.8 110.9L502.6 111.1L502.7 111.3Z"/><path fill="#ffc01a" d="M503.6 115.8L503.3 115.5L502.9 115.3L502.5 115.2L502.7 115.7L503 116.1L503.4 116.1ZM503.6 116.1L504 115.9L504.1 115.4L504.1 114.9L503.8 115.1L503.4 115.4L503.3 115.9Z"/><path fill="#ff5a1a" d="M507.1 159.1L504.3 157.1L500.5 154.5L497.7 152.3L500.1 155.1L503.7 158.2L506.8 159.6ZM507.1 159.6L510.4 158L514.3 154.7L516.9 151.7L513.9 154L509.8 156.9L506.8 159.1ZM506.9 154.1L504.1 152L500.4 149.4L497.7 147.2L500 150L503.6 153.1L506.7 154.6ZM506.9 154.6L509.7 153L512.7 150L514.7 147.3L512.3 149.4L509.1 152L506.6 154.1ZM506.7 149.1L504.3 147.4L501.1 145.3L498.8 143.6L500.8 145.9L503.8 148.4L506.5 149.6ZM506.8 149.6L509.1 148L511.6 145L513.1 142.3L511.2 144.4L508.4 147.1L506.4 149.1ZM506.4 144.2L504.4 142.9L501.7 141.3L499.6 139.9L501.4 141.8L504 143.8L506.2 144.7ZM506.5 144.7L508.5 143.4L510.7 141L512.1 138.9L510.4 140.5L507.9 142.6L506.2 144.2ZM506.1 139.3L504.4 138.2L502.1 136.8L500.3 135.7L501.8 137.4L504 139.1L505.9 139.8ZM506.2 139.8L507.8 138.6L509.4 136.4L510.4 134.5L509 136L507.2 137.8L505.8 139.4ZM505.7 134.5L504.3 133.6L502.4 132.5L501 131.6L502.2 133L504 134.4L505.5 135ZM505.8 134.9L507.1 134L508.3 132.2L509 130.6L508 131.7L506.5 133.3L505.5 134.6ZM505.3 129.8L504.2 129L502.7 128.1L501.6 127.5L502.5 128.6L503.8 129.8L505.1 130.2ZM505.3 130.1L506.3 129.5L507.2 128.1L507.7 126.8L506.9 127.7L505.7 128.8L505 129.8ZM504.8 125.1L504.1 124.4L503 123.8L502.2 123.4L502.8 124.2L503.7 125.1L504.6 125.4ZM504.8 125.4L505.5 124.8L506.1 123.7L506.3 122.7L505.7 123.4L504.9 124.3L504.5 125.1ZM504.2 120.4L503.7 119.9L502.9 119.6L502.3 119.3L502.7 120L503.4 120.6L504 120.8ZM504.2 120.7L504.8 120.4L505.2 119.6L505.4 118.8L504.9 119.2L504.3 119.8L504 120.5Z"/><polyline points="507,162.4 506.9,156.4 506.6,150.4 506.3,144.5 505.9,138.7 505.4,132.9 504.9,127.3 504.2,121.7 503.5,116.1 502.7,110.7 501.8,105.3" fill="none" stroke="#ffb41a" stroke-width="0.6"/></g>
<g filter="url(#soft)"><path fill="#20d0a0" d="M534.5 118L534.1 116.7L532.8 116.4L531.6 116.6L531.7 118.2L532.3 119.7L533.6 119.5ZM534.6 119.4L535.8 119.5L536.1 118L536 116.5L534.8 116.4L533.6 116.8L533.5 118ZM536 149.5L541.7 148.6L548.3 144.9L553 141.3L547.4 142.2L540.1 144.2L535.2 147.3ZM537.5 148.2L542.8 151.2L538.6 146.8ZM538.9 147.7L539.3 141.6L537.1 147.3ZM539.9 147.3L544.8 149.9L541 145.9ZM541.3 146.8L541.6 141.2L539.6 146.4ZM542.3 146.3L546.7 148.6L543.4 144.9ZM543.7 145.8L543.9 140.9L542 145.4ZM544.7 145.4L548.6 147.2L545.8 143.9ZM546.1 144.8L546.2 140.5L544.4 144.4ZM547.1 144.3L550.3 145.7L548.2 142.9ZM548.5 143.8L548.4 140.3L546.7 143.4ZM549.4 143.3L551.9 144.1L550.5 141.9ZM550.9 142.8L550.5 140.2L549.1 142.4Z"/><path fill="#58e840" d="M535.6 147.5L531.1 144.3L524.5 141.6L519.5 139.7L523.4 144.4L529.4 149L534.7 149.9ZM533.4 147.5L531.7 143.9L531.6 147.9ZM532 146.9L527.6 151.4L533 148.4ZM530.8 146.2L529.2 143.1L529 146.6ZM529.4 145.7L525.6 149.7L530.5 147.2ZM528.2 144.9L526.7 142.2L526.5 145.3ZM526.8 144.4L523.6 147.9L527.9 145.8ZM525.8 143.4L524.3 141.2L524 143.8ZM524.3 142.8L521.9 145.8L525.4 144.3ZM523.3 141.7L522.1 140.1L521.6 142.1ZM521.9 141.2L520.3 143.5L523 142.6ZM535.6 149.9L540.6 149L546 144.6L549.6 140.1L544.9 141.9L538.8 144.4L534.7 147.6ZM537.1 148.4L542.2 151.1L538.1 147ZM538.5 147.9L538.3 144.2L536.7 147.5ZM539.4 147.3L544.1 149.5L540.5 145.8ZM540.9 146.7L540.6 143.4L539.1 146.4ZM541.8 146L545.8 147.8L542.8 144.5ZM543.2 145.4L542.9 142.5L541.4 145ZM544 144.5L547.4 145.9L545.1 143.1ZM545.4 144L545 141.5L543.7 143.6ZM546.3 142.9L548.8 143.7L547.3 141.5ZM547.7 142.4L547.1 140.5L545.9 142ZM535.6 143.4L531.6 139.9L525.7 136.9L521.2 134.7L524.5 139.5L529.6 144.2L534.5 145.5ZM533.6 143.1L532.4 140.9L531.8 143.4ZM532.2 142.5L529.5 145.2L533.2 144ZM531.2 141.8L530.1 139.7L529.5 142ZM529.9 141.1L527.5 143.7L530.8 142.7ZM529 140.3L527.9 138.5L527.2 140.5ZM527.6 139.6L525.7 141.9L528.6 141.2ZM526.8 138.7L525.7 137.2L525 138.9ZM525.4 138L523.9 140.1L526.4 139.6ZM535.6 145.5L539.6 144.7L543.5 140.7L546 136.7L542.3 138.1L537.5 140.4L534.5 143.4ZM537.3 143.7L540.3 144.5L538.3 142.2ZM538.7 143.1L538 141.1L536.9 142.9ZM540 142L542.5 142.5L540.9 140.5ZM541.3 141.4L540.6 139.6L539.6 141.1ZM535.4 139.2L532.4 136.1L527.6 133.6L523.9 131.9L526.4 136L530.4 140.1L534.4 141.2ZM535.4 141.2L538.9 140.7L542.4 137.4L544.6 133.9L541.3 134.9L537.1 136.6L534.5 139.2ZM535.3 135L532.9 132.4L528.9 130.4L525.8 129.2L527.7 132.7L530.9 136.1L534.3 136.9ZM535.3 136.8L538.4 136.1L541.2 132.7L542.8 129.3L539.9 130.5L536.3 132.4L534.3 135ZM535.1 130.8L533.4 128.4L530.3 126.8L527.8 125.9L529.1 128.9L531.4 131.9L534.1 132.5ZM535.1 132.5L537.5 132.2L539.6 129.6L540.7 126.8L538.5 127.4L535.6 128.7L534.1 130.7ZM534.9 126.5L533.5 124.6L530.9 123.6L528.8 123.2L529.9 125.7L531.8 128L534 128.2ZM534.9 128.1L536.9 127.9L538.2 125.7L538.8 123.4L537 123.8L534.8 124.7L533.9 126.5ZM534.7 122.3L534.2 120.7L532.4 120L530.9 119.8L531.2 121.8L532.1 123.7L533.7 123.8ZM534.7 123.8L536.3 123.8L537.1 122L537.4 120.1L536 120.2L534.3 120.8L533.7 122.3Z"/><polyline points="535.2,150.8 535.1,146.6 535,142.5 534.9,138.3 534.7,134.1 534.5,129.9 534.4,125.7 534.1,121.5 533.9,117.3 533.7,113 533.4,108.8" fill="none" stroke="#dcea20" stroke-width="1.2"/><path fill="#60ee2a" d="M534.3 118.2L534 117.3L533 117L532.1 117.1L532.2 118.2L532.8 119.3L533.7 119.2ZM534.4 119.2L535.3 119.2L535.6 118.1L535.5 117L534.6 117L533.7 117.3L533.6 118.3ZM535.9 149.2L541.3 148.2L547.7 144.7L552.4 141.5L547 142.7L540.1 144.8L535.3 147.6ZM537.7 147.9L542.4 150.8L538.3 147.1ZM538.5 147.6L539.2 142.2L537.5 147.4ZM540.1 147L544.3 149.5L540.7 146.2ZM540.9 146.7L541.5 141.8L539.9 146.5ZM542.5 146L546.2 148.2L543.1 145.2ZM543.3 145.7L543.8 141.5L542.4 145.5ZM544.9 145L548.1 146.8L545.5 144.2ZM545.7 144.7L546 141.1L544.7 144.5ZM547.3 144L549.9 145.3L547.9 143.2ZM548.1 143.7L548.2 140.9L547.1 143.5ZM549.7 143L551.5 143.7L550.3 142.2ZM550.5 142.7L550.4 140.8L549.5 142.5Z"/><path fill="#dcea20" d="M535.5 147.8L531.1 144.9L524.8 142.1L520.1 140.1L524 144.3L529.7 148.5L534.8 149.6ZM533 147.5L531.8 144.5L532 147.8ZM532.2 147.3L528.1 151L532.8 148.1ZM530.4 146.3L529.3 143.7L529.4 146.5ZM529.6 146L526 149.4L530.2 146.8ZM527.9 145L526.9 142.8L526.9 145.2ZM527.1 144.7L524.1 147.5L527.7 145.5ZM525.4 143.4L524.5 141.7L524.4 143.7ZM524.6 143.2L522.3 145.5L525.2 144ZM522.9 141.8L522.2 140.7L522 142ZM522.2 141.5L520.8 143.2L522.8 142.3ZM535.5 149.6L540.2 148.6L545.4 144.6L548.9 140.5L544.6 142.4L538.8 145L534.8 147.8ZM537.3 148.1L541.7 150.7L537.9 147.3ZM538.1 147.8L538.2 144.8L537.1 147.6ZM539.7 146.9L543.6 149.2L540.3 146.1ZM540.5 146.6L540.5 144L539.5 146.4ZM542 145.6L545.3 147.4L542.6 144.8ZM542.8 145.3L542.7 143.1L541.8 145.1ZM544.3 144.2L546.9 145.5L544.9 143.4ZM545.1 143.9L544.9 142.1L544.1 143.7ZM546.5 142.6L548.4 143.4L547.1 141.8ZM547.3 142.3L547 141.1L546.3 142.1ZM535.4 143.6L531.6 140.5L526 137.5L521.7 135.1L525 139.4L530 143.8L534.7 145.3ZM533.2 143.2L532.4 141.5L532.2 143.3ZM532.4 142.8L530 144.9L532.9 143.7ZM530.9 141.8L530.2 140.3L529.9 142ZM530.1 141.5L528.1 143.3L530.6 142.3ZM528.6 140.3L527.9 139.1L527.6 140.5ZM527.8 140L526.2 141.6L528.4 140.8ZM526.4 138.7L525.8 137.8L525.4 138.9ZM525.7 138.4L524.4 139.7L526.2 139.2ZM535.5 145.3L539.1 144.3L543 140.7L545.4 137.1L542 138.7L537.6 141L534.7 143.6ZM537.6 143.4L539.8 144.2L538.1 142.5ZM538.3 143L538 141.7L537.3 142.9ZM540.2 141.7L542 142.2L540.7 140.8ZM540.9 141.3L540.6 140.2L540 141.2ZM535.3 139.4L532.4 136.7L527.9 134.2L524.5 132.3L526.9 136L530.8 139.7L534.5 140.9ZM535.3 141L538.5 140.3L541.8 137.4L544 134.3L541 135.5L537.1 137.2L534.6 139.4ZM535.1 135.2L532.8 133L529.1 131L526.3 129.6L528.3 132.7L531.4 135.8L534.4 136.6ZM535.2 136.6L538 135.7L540.6 132.7L542.2 129.7L539.7 131.1L536.4 133L534.4 135.2ZM535 131L533.3 129L530.5 127.4L528.3 126.3L529.6 128.9L531.8 131.5L534.3 132.3ZM535 132.3L537.1 131.8L539.1 129.6L540.2 127.3L538.2 128L535.7 129.2L534.3 131ZM534.7 126.7L533.4 125.2L531.2 124.2L529.4 123.6L530.4 125.6L532.2 127.6L534.1 127.9ZM534.8 127.9L536.4 127.6L537.7 125.7L538.3 123.8L536.8 124.4L535 125.3L534.1 126.8ZM534.6 122.5L534 121.3L532.6 120.6L531.4 120.3L531.7 121.9L532.6 123.4L533.9 123.6ZM534.6 123.6L535.8 123.5L536.6 122.1L536.9 120.6L535.8 120.8L534.4 121.3L533.9 122.5Z"/><path fill="#c8f020" d="M534.2 118.4L533.9 117.8L533.1 117.5L532.5 117.4L532.7 118.2L533.1 119L533.8 119ZM534.2 119L534.9 118.9L535.2 118.1L535.2 117.3L534.6 117.5L533.9 117.8L533.8 118.4ZM535.8 148.9L540 147.9L545.2 145.3L549 142.9L544.8 144.1L539.3 145.8L535.4 147.9Z"/><path fill="#ffb41a" d="M535.4 148.2L531.8 146L526.8 143.7L523.1 141.8L526.3 145L531 148.2L535 149.3ZM535.4 149.3L539.1 148.3L543.3 145.2L546.2 142.1L542.8 143.9L538.2 146.1L534.9 148.2ZM535.3 144L532.1 141.6L527.7 139.1L524.4 137L527.1 140.2L531.2 143.6L534.8 145ZM535.3 144.9L538.2 144L541.3 141.2L543.3 138.6L540.7 140.1L537.2 142L534.8 144ZM535.2 139.7L532.7 137.7L529.2 135.6L526.6 133.9L528.6 136.6L531.8 139.5L534.7 140.6ZM535.1 140.7L537.6 140L540.4 137.7L542.2 135.5L539.9 136.6L536.8 138.1L534.7 139.7ZM535 135.5L533.1 133.8L530.2 132.1L528 130.9L529.7 133.2L532.2 135.5L534.6 136.3ZM535 136.3L537.2 135.5L539.4 133.2L540.7 131L538.8 132.2L536.2 133.8L534.6 135.5ZM534.8 131.2L533.4 129.8L531.3 128.4L529.6 127.4L530.7 129.3L532.6 131.3L534.4 132ZM534.8 132L536.5 131.5L538.1 129.8L539.1 128.1L537.6 128.9L535.6 130L534.4 131.2ZM534.6 127L533.5 125.9L531.7 125L530.4 124.3L531.3 125.8L532.8 127.3L534.3 127.7ZM534.7 127.7L535.9 127.3L536.9 125.9L537.5 124.5L536.4 125.1L535 125.9L534.2 127ZM534.4 122.7L533.9 121.8L532.8 121.2L532 120.8L532.3 122L533.1 123.1L534 123.3ZM534.4 123.4L535.3 123.2L536 122.1L536.4 121.1L535.5 121.4L534.5 121.9L534 122.7Z"/><path fill="#ffc01a" d="M534.1 118.6L533.9 118.2L533.4 117.9L533 117.8L533.1 118.3L533.5 118.8L533.9 118.9ZM534.1 118.9L534.5 118.8L534.7 118.3L534.8 117.8L534.5 117.9L534 118.2L533.9 118.6ZM535.7 148.7L538.6 147.9L542.2 146.2L544.8 144.6L542 145.5L538.2 146.8L535.5 148.1Z"/><path fill="#ff5a1a" d="M535.3 148.4L532.8 147L529.4 145.4L526.9 144L529.1 146.1L532.3 148.2L535 149ZM535.3 149L537.8 148.2L540.7 146.2L542.7 144.2L540.4 145.5L537.3 147.1L535 148.4ZM535.2 144.2L533 142.7L529.9 140.8L527.7 139.3L529.6 141.5L532.5 143.7L534.9 144.7ZM535.2 144.7L537.1 144L539.3 142.2L540.7 140.4L539 141.5L536.6 142.9L534.9 144.2ZM535.1 139.9L533.3 138.6L530.9 137.1L529.2 135.9L530.6 137.7L532.8 139.6L534.8 140.4ZM535 140.4L536.7 139.9L538.6 138.4L539.9 137L538.4 137.8L536.3 138.9L534.8 139.9ZM534.9 135.7L533.5 134.6L531.6 133.4L530.1 132.4L531.3 133.9L533.1 135.5L534.7 136.1ZM534.9 136.1L536.4 135.5L537.9 134L538.9 132.5L537.6 133.4L535.9 134.6L534.7 135.7ZM534.7 131.4L533.7 130.5L532.3 129.5L531.2 128.7L532 130L533.3 131.3L534.5 131.8ZM534.7 131.8L535.8 131.4L537 130.3L537.7 129.2L536.7 129.8L535.4 130.6L534.5 131.4ZM534.5 127.1L533.7 126.4L532.5 125.8L531.6 125.3L532.3 126.2L533.3 127.2L534.3 127.5ZM534.6 127.5L535.4 127.2L536.1 126.3L536.6 125.4L535.8 125.9L534.9 126.5L534.3 127.1ZM534.3 122.9L533.9 122.3L533.2 121.8L532.7 121.5L533 122.2L533.5 123L534.1 123.2ZM534.3 123.2L534.9 123L535.4 122.4L535.7 121.7L535.2 121.9L534.5 122.3L534.1 122.9Z"/><polyline points="535.2,150.8 535.1,146.6 535,142.5 534.9,138.3 534.7,134.1 534.5,129.9 534.4,125.7 534.1,121.5 533.9,117.3 533.7,113 533.4,108.8" fill="none" stroke="#ffb41a" stroke-width="0.6"/></g>
<g filter="url(#soft)"><path fill="#20a0ff" d="M587.8 113.4L588.8 113.3L588.6 112.2L587.9 111.1L586.9 111.1L586 111.5L586.4 112.4Z"/><path fill="#20d0a0" d="M588.5 116.5L588.3 115.3L587.2 115.1L586.1 115.4L586.1 116.9L586.5 118.2L587.6 117.9ZM588.8 117.7L590 117.3L590 115.7L589.5 114.1L588.3 114.5L587.2 115.4L587.4 116.7Z"/><path fill="#58e840" d="M593.7 157.7L589 153.7L582 150L576.8 147.3L580.7 152.7L586.9 158.3L592.6 160ZM591.6 157.5L590.2 153.4L589.8 157.7ZM590.3 156.8L584.9 161.2L591.2 158.4ZM589.2 156.1L587.9 152.4L587.5 156.4ZM587.9 155.5L583.1 159.5L588.8 157ZM586.9 154.7L585.6 151.3L585.1 154.9ZM585.6 154L581.4 157.7L586.5 155.5ZM584.7 153.1L583.4 150.2L582.9 153.3ZM583.3 152.4L579.8 155.7L584.3 153.9ZM582.5 151.4L581.3 149L580.7 151.6ZM581.1 150.7L578.3 153.5L582.1 152.2ZM580.3 149.5L579.2 147.8L578.5 149.8ZM579 148.9L577.1 151.1L579.9 150.4ZM593.9 159.8L600.7 155.6L607.2 146.8L611.1 138.9L605.4 144.5L597.6 151.6L592.4 157.9ZM595.1 157.9L604.1 160L595.7 156.2ZM596.3 156.9L594.8 151.4L594.5 157.1ZM597.2 156L605.6 157.9L597.8 154.3ZM598.4 155L597 149.9L596.6 155.2ZM599.3 154L607 155.7L599.9 152.3ZM600.5 153L599.1 148.3L598.7 153.2ZM601.3 151.9L608.3 153.4L601.9 150.2ZM602.5 151L601.2 146.7L600.7 151.2ZM603.2 149.8L609.5 151L603.8 148.1ZM604.4 148.8L603.1 145L602.6 149ZM605.1 147.5L610.5 148.4L605.7 145.8ZM606.3 146.6L605.1 143.3L604.5 146.8ZM606.9 145.2L611.3 145.8L607.5 143.5ZM608.1 144.3L606.9 141.6L606.3 144.4ZM608.7 142.8L611.9 143L609.2 141.1ZM609.8 141.9L608.8 139.9L608.1 142ZM593.3 152.8L588.8 149.3L582.2 146.1L577.2 143.8L581.1 148.8L587 153.7L592.4 155ZM591.1 152.5L589.8 150.1L589.3 152.8ZM589.7 151.9L586.8 154.9L590.7 153.4ZM588.5 151.1L587.2 149L586.7 151.4ZM587.1 150.5L584.6 153.3L588.1 152ZM585.9 149.6L584.7 147.7L584.1 149.9ZM584.5 149L582.4 151.5L585.5 150.5ZM583.4 147.9L582.2 146.3L581.6 148.2ZM582 147.3L580.4 149.5L583 148.8ZM581 146L579.9 144.8L579.2 146.3ZM579.6 145.4L578.5 147.3L580.6 146.9ZM593.7 154.8L599.4 150.8L604.5 142.7L607.3 135.5L602.5 140.6L596.1 147.2L592.1 153ZM594.7 152.9L599.8 153.3L595.1 151.1ZM595.8 151.8L594.4 148.8L594 152.1ZM596.6 150.8L601.4 151.2L597.1 149.1ZM597.7 149.8L596.3 147L596 150.1ZM598.5 148.7L602.8 149L598.9 147ZM599.6 147.7L598.2 145.2L597.8 148ZM600.3 146.5L604.2 146.7L600.7 144.8ZM601.4 145.5L600.1 143.3L599.6 145.8ZM602 144.3L605.4 144.2L602.4 142.5ZM603.1 143.2L601.8 141.3L601.3 143.5ZM603.6 141.9L606.4 141.7L604.1 140.2ZM604.7 140.9L603.5 139.2L602.9 141.2ZM605.1 139.4L607.3 139.1L605.6 137.7ZM606.3 138.4L605.1 137.2L604.5 138.7ZM593 148L589.6 145L584.4 142.6L580.5 140.9L583.3 145.1L587.7 149.2L592 150.1ZM593.2 150L598.2 147L602.6 140.5L605.1 134.6L600.9 138.4L595.2 143.5L591.8 148.2ZM592.6 143.4L589.8 140.3L585.2 137.6L581.7 135.8L583.9 139.9L587.6 144.1L591.5 145.3ZM592.9 145.1L597.1 141.7L600.5 135L602 129.1L598.6 133.2L593.9 138.7L591.3 143.6ZM592.1 138.7L589.9 136.1L586.2 134.2L583.2 133L585 136.4L587.9 139.8L591.1 140.5ZM592.3 140.4L595.8 138.2L598.6 133.3L599.9 128.7L596.9 131.4L593 135.2L590.9 138.9ZM591.5 134.1L589.9 131.8L586.8 130.1L584.4 129.1L585.5 132.2L587.8 135.2L590.5 135.8ZM591.7 135.7L594.6 133.8L596.6 129.5L597.3 125.6L594.8 127.9L591.7 131.1L590.3 134.3ZM590.8 129.6L589.4 127.6L586.8 126.5L584.6 125.9L585.7 128.5L587.6 131L589.9 131.3ZM591.1 131.1L593.6 129.5L595.2 125.7L595.7 122.2L593.5 124.2L590.8 126.9L589.7 129.8ZM590.1 125.1L589 123.4L586.8 122.6L585 122.3L585.8 124.5L587.3 126.7L589.2 126.8ZM590.4 126.5L592.3 125.4L593 122.4L592.9 119.8L591.3 121.1L589.4 123.1L588.9 125.4ZM589.4 120.8L589 119.4L587.4 118.9L586 118.8L586.2 120.6L587 122.3L588.4 122.3ZM589.6 122.1L591.2 121.3L591.6 119L591.3 116.9L589.9 117.8L588.4 119.2L588.2 121Z"/><polyline points="593.3,161.8 593,155.9 592.6,150.1 592.1,144.4 591.5,138.8 590.8,133.2 590,127.8 589.1,122.5 588.1,117.3 587,112.2 585.8,107.2" fill="none" stroke="#dcea20" stroke-width="1.2"/><path fill="#3be83a" d="M587.6 113.2L588.3 113.2L588.1 112.5L587.6 111.8L587 111.8L586.4 112L586.7 112.6Z"/><path fill="#60ee2a" d="M588.4 116.7L588.2 115.9L587.4 115.7L586.6 115.9L586.6 116.9L587 117.8L587.7 117.7ZM588.5 117.5L589.4 117.2L589.5 115.9L589.2 114.8L588.3 115.2L587.5 115.8L587.6 116.8Z"/><path fill="#dcea20" d="M593.6 158L589 154.3L582.3 150.6L577.3 147.7L581.3 152.7L587.3 157.9L592.7 159.7ZM591.2 157.5L590.3 154L590.2 157.7ZM590.5 157.2L585.4 160.9L591 158ZM588.9 156.2L587.9 153L587.9 156.3ZM588.1 155.8L583.6 159.2L588.6 156.7ZM586.5 154.7L585.7 151.9L585.5 154.8ZM585.8 154.3L581.9 157.4L586.3 155.2ZM584.3 153.1L583.5 150.8L583.3 153.2ZM583.5 152.8L580.3 155.4L584 153.6ZM582.1 151.4L581.3 149.6L581.1 151.5ZM581.3 151L578.8 153.2L581.8 151.9ZM579.9 149.6L579.3 148.4L578.9 149.7ZM579.2 149.2L577.6 150.8L579.7 150.1ZM593.8 159.6L600.2 155.3L606.7 146.9L610.6 139.5L605.2 145.1L597.8 152.2L592.6 158.1ZM595.2 157.5L603.5 159.8L595.5 156.5ZM595.9 157L594.9 152L594.9 157.1ZM597.3 155.6L605 157.7L597.7 154.6ZM598 155.1L597.1 150.5L597 155.2ZM599.4 153.6L606.4 155.5L599.7 152.7ZM600.1 153.1L599.2 148.9L599.1 153.2ZM601.4 151.5L607.7 153.2L601.8 150.6ZM602.1 151L601.2 147.3L601.1 151.1ZM603.4 149.4L608.9 150.8L603.7 148.4ZM604 148.9L603.2 145.6L603 149ZM605.2 147.2L609.9 148.2L605.6 146.2ZM605.9 146.6L605.1 143.9L604.9 146.7ZM607.1 144.8L610.8 145.6L607.4 143.9ZM607.7 144.3L607 142.2L606.7 144.4ZM608.8 142.4L611.3 142.8L609.1 141.5ZM609.5 141.9L608.8 140.5L608.5 142ZM593.2 153.1L588.8 149.9L582.5 146.7L577.8 144.2L581.6 148.7L587.4 153.3L592.5 154.8ZM590.7 152.6L589.9 150.7L589.7 152.8ZM589.9 152.3L587.3 154.6L590.5 153.1ZM588.1 151.2L587.3 149.6L587.1 151.4ZM587.3 150.9L585.1 153L587.8 151.7ZM585.5 149.7L584.8 148.3L584.5 149.8ZM584.7 149.3L582.9 151.2L585.3 150.2ZM583 148L582.3 146.9L582 148.1ZM582.3 147.6L580.9 149.2L582.8 148.5ZM580.6 146.1L580 145.4L579.6 146.3ZM579.8 145.8L579 146.9L580.4 146.6ZM593.5 154.6L598.8 150.5L603.9 142.8L606.8 136L602.4 141.2L596.4 147.8L592.2 153.2ZM594.8 152.5L599.2 153.1L595 151.5ZM595.4 151.9L594.5 149.4L594.4 152.1ZM596.7 150.5L600.8 151L597 149.5ZM597.3 149.9L596.4 147.6L596.3 150.1ZM598.6 148.4L602.2 148.8L598.8 147.4ZM599.2 147.8L598.3 145.8L598.2 148ZM600.4 146.2L603.6 146.5L600.6 145.2ZM601 145.6L600.2 143.8L600 145.8ZM602.1 143.9L604.8 144.1L602.3 142.9ZM602.7 143.3L601.9 141.9L601.7 143.5ZM603.7 141.5L605.9 141.6L604 140.5ZM604.3 140.9L603.6 139.8L603.3 141.1ZM605.2 139.1L606.7 138.9L605.5 138.1ZM605.9 138.5L605.2 137.8L604.9 138.7ZM592.9 148.3L589.6 145.6L584.7 143.1L581.1 141.3L583.9 145L588.1 148.8L592.1 149.9ZM593.1 149.8L597.6 146.7L602 140.6L604.6 135.1L600.7 139L595.4 144.1L592 148.4ZM592.5 143.6L589.7 140.9L585.4 138.2L582.2 136.3L584.5 139.9L588.1 143.7L591.7 145ZM592.7 144.9L596.6 141.5L599.9 135.2L601.6 129.7L598.5 133.8L594.2 139.2L591.5 143.8ZM591.9 138.9L589.8 136.7L586.4 134.8L583.8 133.4L585.5 136.4L588.3 139.4L591.2 140.3ZM592.1 140.2L595.3 138L598.1 133.4L599.5 129.3L596.8 132L593.2 135.7L591.1 139.1ZM591.4 134.4L589.8 132.4L587 130.7L584.9 129.6L586.1 132.2L588.3 134.8L590.6 135.6ZM591.5 135.5L594.1 133.6L596 129.7L596.9 126.2L594.8 128.5L592 131.6L590.5 134.5ZM590.7 129.8L589.4 128.2L587 127.1L585.2 126.4L586.2 128.5L588.1 130.6L590 131ZM590.9 130.9L593.1 129.3L594.6 125.9L595.3 122.8L593.4 124.8L591.1 127.4L589.9 130ZM590 125.4L589 124L587.1 123.2L585.5 122.7L586.3 124.5L587.7 126.3L589.4 126.5ZM590.2 126.3L591.8 125.2L592.5 122.7L592.6 120.4L591.3 121.7L589.7 123.6L589.2 125.6ZM589.2 121L588.8 119.9L587.6 119.4L586.6 119.3L586.8 120.7L587.4 122L588.6 122ZM589.4 121.9L590.6 121.2L591.1 119.3L591 117.5L589.9 118.4L588.7 119.7L588.4 121.2Z"/><path fill="#8cf02a" d="M587.4 113.1L587.9 113L587.8 112.5L587.5 112L587.1 112.1L586.7 112.3L586.9 112.7Z"/><path fill="#c8f020" d="M588.2 116.9L588.1 116.3L587.4 116.1L586.9 116.1L587 116.9L587.3 117.5L587.9 117.5ZM588.3 117.4L589 117L589.1 116.1L589 115.3L588.4 115.6L587.8 116.2L587.8 117Z"/><path fill="#ffb41a" d="M593.4 158.3L589.6 155.6L584.4 152.5L580.5 149.9L583.8 153.7L588.6 157.7L592.9 159.4ZM593.5 159.3L598.5 155.7L603.8 149.1L607.1 143.3L603 148L597.1 153.8L592.8 158.4ZM593.1 153.4L589.5 151L584.5 148.3L580.8 146.1L583.9 149.5L588.6 153.1L592.6 154.4ZM593.2 154.3L597.4 150.9L601.6 144.9L604 139.6L600.7 143.9L595.9 149.3L592.5 153.5ZM592.7 148.6L590 146.6L586.2 144.5L583.4 142.9L585.7 145.7L589.2 148.5L592.3 149.6ZM592.8 149.5L596.4 146.9L600 142.2L602.2 137.9L599.2 141.2L595.1 145.3L592.2 148.7ZM592.3 143.9L590 141.8L586.7 139.6L584.2 137.9L586.1 140.6L589 143.6L591.8 144.7ZM592.4 144.7L595.5 141.8L598.2 136.9L599.7 132.6L597.4 136.1L594 140.5L591.7 144ZM591.8 139.2L590 137.6L587.4 135.9L585.4 134.7L586.8 136.9L589.1 139.2L591.4 140ZM591.9 140L594.4 138.1L596.6 134.5L597.9 131.3L595.9 133.7L593.1 136.7L591.3 139.3ZM591.2 134.6L589.9 133.1L587.7 131.7L586.1 130.7L587.2 132.6L589 134.6L590.8 135.4ZM591.3 135.3L593.3 133.7L594.9 130.6L595.7 127.9L594.1 129.9L592 132.5L590.7 134.7ZM590.6 130.1L589.4 128.9L587.6 127.9L586.2 127.2L587.1 128.8L588.6 130.3L590.2 130.8ZM590.7 130.7L592.3 129.3L593.7 126.7L594.3 124.4L592.9 126L591.1 128.2L590.1 130.2ZM589.9 125.6L589 124.6L587.5 123.9L586.4 123.4L587.1 124.7L588.2 126L589.5 126.3ZM590 126.2L591.1 125.2L591.8 123.2L592 121.5L591.1 122.7L589.9 124.2L589.4 125.7ZM589.1 121.2L588.7 120.5L587.8 120L587 119.7L587.3 120.7L587.9 121.7L588.7 121.8ZM589.2 121.7L590.1 121.1L590.5 119.6L590.6 118.3L589.8 119.1L588.9 120.2L588.6 121.3Z"/><path fill="#e6ee1c" d="M587.3 113L587.5 112.9L587.5 112.6L587.4 112.3L587.2 112.4L586.9 112.5L587 112.8Z"/><path fill="#ffc01a" d="M588.2 117L588 116.7L587.6 116.5L587.3 116.5L587.4 116.9L587.6 117.3L588 117.3ZM588.2 117.3L588.6 117L588.7 116.4L588.7 115.9L588.3 116.2L588 116.6L587.9 117.1Z"/><path fill="#ff5a1a" d="M593.3 158.6L590.7 156.8L587.1 154.5L584.5 152.7L586.7 155.2L590.1 157.9L593 159.1ZM593.4 159.1L596.7 156.5L600.4 152.1L602.8 148.2L600 151.5L596 155.5L593 158.6ZM593 153.7L590.5 152.1L587.1 150.2L584.6 148.6L586.8 150.8L590 153.2L592.7 154.2ZM593.1 154.1L595.9 151.7L598.8 147.6L600.6 144.1L598.3 147.1L595.1 150.9L592.7 153.7ZM592.6 148.8L590.7 147.5L588.1 146L586.2 144.8L587.9 146.6L590.3 148.6L592.4 149.3ZM592.7 149.3L595.1 147.5L597.6 144.2L599.2 141.4L597.2 143.7L594.4 146.6L592.3 148.9ZM592.2 144.1L590.6 142.7L588.3 141.2L586.7 139.9L588 141.7L590.1 143.7L591.9 144.5ZM592.3 144.5L594.3 142.5L596.2 139.1L597.3 136.3L595.8 138.7L593.5 141.8L591.9 144.1ZM591.7 139.4L590.4 138.3L588.6 137.1L587.3 136.2L588.3 137.7L590 139.2L591.5 139.8ZM591.7 139.8L593.4 138.5L595 136L595.9 133.9L594.6 135.6L592.7 137.7L591.4 139.4ZM591.1 134.8L590.2 133.8L588.7 132.8L587.6 132L588.4 133.3L589.7 134.6L590.9 135.2ZM591.2 135.2L592.5 134L593.6 131.9L594.2 130.1L593.2 131.5L591.8 133.4L590.8 134.8ZM590.5 130.2L589.7 129.5L588.4 128.8L587.5 128.2L588.2 129.2L589.2 130.3L590.3 130.6ZM590.5 130.6L591.6 129.6L592.6 127.8L593.1 126.3L592.2 127.4L591 129L590.2 130.3ZM589.8 125.8L589.1 125.1L588.1 124.6L587.4 124.2L587.9 125L588.7 125.9L589.6 126.1ZM589.8 126.1L590.6 125.4L591.1 124L591.3 122.9L590.7 123.7L589.9 124.9L589.5 125.8ZM589 121.4L588.7 120.9L588.1 120.5L587.6 120.3L587.8 120.9L588.3 121.5L588.8 121.7ZM589.1 121.6L589.6 121.2L590 120.2L590 119.3L589.6 119.9L589 120.7L588.7 121.4Z"/><polyline points="593.3,161.8 593,155.9 592.6,150.1 592.1,144.4 591.5,138.8 590.8,133.2 590,127.8 589.1,122.5 588.1,117.3 587,112.2 585.8,107.2" fill="none" stroke="#ffb41a" stroke-width="0.6"/></g>
<g filter="url(#soft)"><path fill="#20d0a0" d="M628.2 102.9L628.5 101.7L627.4 101.8L626.2 102.3L625.8 103.7L625.8 104.9L626.9 104.5Z"/><path fill="#58e840" d="M631.4 153.8L626.4 143.8L617.6 132L610.7 123.4L614.5 134.3L621.2 147.6L628.7 155.7ZM629.3 152.9L630.1 148.4L627.6 152.2ZM628.4 151.6L621.2 152.9L628.5 153.4ZM627.7 150.6L628.4 146.3L626 149.9ZM626.8 149.4L620 150.6L626.9 151.1ZM626.1 148.3L626.8 144.2L624.5 147.6ZM625.3 147.1L618.8 148.3L625.3 148.8ZM624.6 146L625.2 142.1L622.9 145.3ZM623.7 144.7L617.6 146L623.8 146.5ZM623.1 143.6L623.6 139.9L621.4 143ZM622.2 142.4L616.5 143.6L622.3 144.2ZM621.6 141.3L622 137.8L619.9 140.6ZM620.7 140L615.4 141.2L620.8 141.8ZM620.1 138.9L620.5 135.7L618.5 138.2ZM619.3 137.7L614.3 138.8L619.3 139.5ZM618.7 136.5L618.9 133.5L617 135.9ZM617.8 135.3L613.4 136.4L617.9 137.1ZM617.3 134.1L617.4 131.4L615.6 133.5ZM616.4 132.9L612.4 134L616.5 134.7ZM615.9 131.7L615.9 129.2L614.2 131ZM615 130.5L611.6 131.5L615.1 132.3ZM614.5 129.3L614.4 127.1L612.9 128.6ZM613.6 128L610.8 129.1L613.7 129.8ZM613.2 126.8L612.9 125.1L611.5 126.1ZM612.3 125.6L610.3 126.6L612.4 127.4ZM631.5 144.1L627.9 137.2L621.2 129.6L615.7 124.3L618.4 131.9L623.3 140.9L629.2 146ZM629.5 143.2L629.3 140.9L627.7 142.6ZM628.5 142L625.4 143.3L628.7 143.8ZM627.8 141L627.5 138.8L626.1 140.5ZM626.8 139.8L623.9 141.1L627 141.6ZM626.1 138.8L625.9 136.7L624.4 138.3ZM625.2 137.6L622.5 138.9L625.4 139.4ZM624.5 136.6L624.2 134.7L622.8 136ZM623.6 135.4L621.1 136.6L623.8 137.2ZM622.9 134.4L622.6 132.5L621.2 133.8ZM622 133.2L619.7 134.3L622.2 135ZM621.4 132.1L621 130.4L619.7 131.5ZM620.4 130.9L618.5 132L620.6 132.7ZM631.4 135.2L628.7 129.8L623.2 124.3L618.7 120.5L620.7 126.4L624.6 133.4L629.3 137ZM631.2 127.1L629.2 122.9L624.9 118.7L621.2 116L622.6 120.7L625.4 126.2L629.3 128.8ZM630.7 119.8L629.5 116.9L626.2 114.6L623.4 113.2L624.2 116.6L626.1 120.2L629 121.5ZM630 113.3L629.5 111.3L627.3 110.3L625.3 110L625.5 112.3L626.5 114.6L628.5 115ZM629.2 107.7L629.1 106.2L627.6 105.8L626 106L625.9 107.8L626.4 109.4L627.8 109.3ZM628.6 103.9L629.7 103.7L629 102.8L627.9 102L626.6 102.2L625.7 102.7L626.6 103.4Z"/><path fill="#8cf030" d="M631.4 155.7L638.2 148.3L644 136.1L647.1 126.1L640.8 133.9L632.9 144.6L628.7 153.9ZM631.6 153.5L638.1 152.8L631.6 151.7ZM632.4 152.2L630 148.8L630.8 152.9ZM633.1 151.2L639.3 150.5L633.1 149.4ZM633.9 150L631.6 146.7L632.3 150.6ZM634.5 148.9L640.4 148.2L634.6 147.1ZM635.4 147.7L633.2 144.6L633.7 148.4ZM636 146.6L641.5 145.9L636.1 144.8ZM636.9 145.4L634.7 142.5L635.2 146.1ZM637.4 144.3L642.6 143.6L637.5 142.5ZM638.3 143.1L636.2 140.4L636.6 143.8ZM638.8 142L643.6 141.3L638.9 140.2ZM639.7 140.8L637.7 138.3L638 141.4ZM640.2 139.7L644.5 138.9L640.3 137.9ZM641.1 138.4L639.2 136.2L639.4 139.1ZM641.6 137.3L645.4 136.5L641.6 135.5ZM642.4 136L640.7 134.1L640.8 136.7ZM642.9 134.9L646.3 134.1L643 133.1ZM643.8 133.7L642.1 132L642.1 134.3ZM644.2 132.5L647 131.7L644.3 130.7ZM645.1 131.3L643.5 129.9L643.4 131.9ZM645.5 130.1L647.5 129.3L645.5 128.3ZM646.3 128.8L645 127.9L644.7 129.5ZM631.5 145.9L636.8 140.6L640.9 131.5L642.9 124L637.9 129.5L631.9 137.2L629.1 144.2ZM631.8 143.7L634.9 143L631.8 141.9ZM632.6 142.5L631 140.9L631 143.2ZM633.2 141.5L636.2 140.8L633.3 139.7ZM634.1 140.3L632.5 138.8L632.4 141ZM634.6 139.3L637.4 138.5L634.7 137.5ZM635.5 138.1L634 136.7L633.8 138.8ZM636 137.1L638.6 136.3L636.1 135.3ZM636.9 135.8L635.4 134.6L635.2 136.5ZM637.4 134.8L639.7 134L637.5 133ZM638.3 133.6L636.8 132.4L636.6 134.2ZM638.7 132.5L640.8 131.7L638.8 130.7ZM639.6 131.3L638.2 130.3L637.9 131.9ZM631.5 136.8L635.6 132.7L638.2 125.5L639.3 119.5L635.4 123.8L631 129.8L629.2 135.4ZM631.3 128.5L634.1 125.5L635.1 120.2L635 115.8L632.4 118.9L629.5 123.3L629.1 127.4ZM630.9 121.2L633.1 119.4L633.7 115.7L633.4 112.6L631.2 114.4L628.9 117.2L628.8 120.1ZM630.3 114.7L632 113.6L632.1 111L631.5 108.8L629.8 109.8L628.1 111.6L628.3 113.7ZM629.5 108.9L630.9 108.4L630.5 106.9L629.5 105.5L628.1 105.9L626.9 106.8L627.5 108.1Z"/><polyline points="629.9,158.8 630.2,149 630.4,140 630.3,131.8 630.1,124.3 629.6,117.6 629,111.7 628.2,106.5 627.2,102.2 626,98.5 624.6,95.7" fill="none" stroke="#ffd820" stroke-width="1.2"/><path fill="#60ee2a" d="M628.1 103.1L628.3 102.3L627.5 102.4L626.7 102.8L626.3 103.8L626.3 104.6L627.1 104.3Z"/><path fill="#dcea20" d="M631.1 154L626.1 144.3L617.6 132.6L611 124L615 134.5L621.7 147.4L629 155.6ZM628.9 152.7L629.9 148.9L628 152.3ZM628.4 152L621.8 152.9L628.5 153ZM627.3 150.4L628.2 146.8L626.4 150.1ZM626.8 149.8L620.6 150.6L626.9 150.7ZM625.8 148.1L626.6 144.7L624.8 147.8ZM625.3 147.5L619.4 148.3L625.3 148.4ZM624.2 145.8L625 142.6L623.3 145.4ZM623.7 145.1L618.2 145.9L623.8 146.1ZM622.7 143.5L623.4 140.5L621.8 143.1ZM622.2 142.8L617.1 143.6L622.3 143.8ZM621.2 141.1L621.8 138.4L620.3 140.8ZM620.7 140.4L616 141.2L620.8 141.4ZM619.8 138.8L620.2 136.2L618.8 138.4ZM619.3 138.1L614.9 138.8L619.3 139.1ZM618.3 136.4L618.7 134.1L617.4 136ZM617.8 135.7L614 136.4L617.9 136.7ZM616.9 134L617.2 131.9L616 133.6ZM616.4 133.3L613 134L616.5 134.3ZM615.5 131.5L615.7 129.8L614.6 131.2ZM615 130.9L612.2 131.5L615.1 131.9ZM614.2 129.1L614.2 127.7L613.2 128.7ZM613.7 128.4L611.4 129L613.7 129.4ZM612.8 126.6L612.7 125.7L611.9 126.3ZM612.3 126L610.9 126.5L612.4 127ZM631.2 144.3L627.6 137.7L621.2 130.2L616.1 124.8L619 132L623.9 140.7L629.4 145.8ZM629.1 143L629.1 141.4L628.1 142.7ZM628.5 142.4L626 143.2L628.7 143.4ZM627.4 140.9L627.4 139.4L626.4 140.6ZM626.9 140.2L624.5 141L627 141.2ZM625.7 138.7L625.7 137.3L624.8 138.4ZM625.2 138L623.1 138.8L625.3 139ZM624.1 136.5L624 135.2L623.2 136.2ZM623.6 135.8L621.7 136.6L623.7 136.8ZM622.6 134.2L622.4 133.1L621.6 133.9ZM622 133.6L620.3 134.3L622.1 134.6ZM621 132L620.8 131L620.1 131.7ZM620.5 131.3L619.1 132L620.6 132.3ZM631.2 135.4L628.4 130.3L623.2 124.9L619.1 121L621.3 126.6L625.1 133.2L629.5 136.8ZM630.9 127.3L629 123.4L624.9 119.3L621.6 116.6L623.1 120.9L626 126L629.5 128.6ZM630.5 120L629.2 117.4L626.3 115.2L623.8 113.8L624.8 116.7L626.7 120L629.2 121.3ZM629.9 113.6L629.3 111.9L627.4 110.9L625.7 110.5L626.1 112.4L627.1 114.4L628.7 114.8ZM629 107.9L628.9 106.7L627.7 106.4L626.5 106.5L626.5 107.9L626.9 109.2L628 109.1ZM628.3 103.9L629.1 103.8L628.6 103.2L627.7 102.7L626.8 102.8L626.2 103L626.8 103.5Z"/><path fill="#ffd820" d="M631.2 155.6L637.7 148.2L643.5 136.4L646.8 126.7L640.8 134.5L633.2 145.1L628.9 154ZM631.6 153.1L637.5 152.8L631.6 152.1ZM632 152.4L630.3 149.4L631.1 152.8ZM633.1 150.8L638.7 150.5L633.1 149.8ZM633.6 150.1L631.8 147.3L632.6 150.5ZM634.6 148.5L639.8 148.2L634.6 147.5ZM635 147.8L633.4 145.2L634.1 148.2ZM636 146.2L640.9 145.9L636.1 145.2ZM636.5 145.5L634.9 143.1L635.6 145.9ZM637.5 143.9L642 143.6L637.5 142.9ZM637.9 143.2L636.5 141L637 143.6ZM638.9 141.6L643 141.2L638.9 140.6ZM639.3 140.9L638 138.9L638.4 141.3ZM640.2 139.3L643.9 138.9L640.3 138.3ZM640.7 138.6L639.4 136.8L639.8 138.9ZM641.6 136.9L644.8 136.5L641.6 135.9ZM642.1 136.2L640.9 134.6L641.1 136.6ZM642.9 134.5L645.7 134.1L643 133.5ZM643.4 133.8L642.3 132.5L642.5 134.2ZM644.2 132.1L646.4 131.7L644.3 131.1ZM644.7 131.4L643.8 130.5L643.8 131.8ZM645.5 129.7L646.9 129.2L645.5 128.7ZM646 129L645.2 128.4L645 129.4ZM631.3 145.7L636.2 140.5L640.3 131.7L642.5 124.6L638 130.1L632.3 137.7L629.3 144.3ZM631.8 143.3L634.3 142.9L631.8 142.3ZM632.3 142.7L631.2 141.5L631.3 143ZM633.2 141.1L635.6 140.7L633.3 140.1ZM633.7 140.5L632.7 139.4L632.8 140.8ZM634.7 138.9L636.8 138.5L634.7 137.9ZM635.1 138.2L634.2 137.3L634.2 138.6ZM636 136.7L638 136.2L636.1 135.7ZM636.5 136L635.6 135.1L635.6 136.4ZM637.4 134.4L639.1 134L637.4 133.4ZM637.9 133.7L637 133L637 134.1ZM638.7 132.1L640.2 131.7L638.8 131.1ZM639.2 131.4L638.4 130.8L638.3 131.8ZM631.3 136.7L635 132.6L637.7 125.7L638.9 120.1L635.5 124.4L631.3 130.3L629.4 135.5ZM631.1 128.4L633.5 125.4L634.6 120.5L634.7 116.5L632.5 119.5L630 123.7L629.3 127.5ZM630.7 121.1L632.5 119.3L633.2 116L633.1 113.2L631.3 115L629.3 117.6L629.1 120.2ZM630 114.5L631.5 113.5L631.6 111.3L631.3 109.4L629.8 110.4L628.5 112L628.5 113.8ZM629.3 108.8L630.3 108.4L630 107.2L629.3 106.2L628.2 106.5L627.3 107.2L627.8 108.2Z"/><path fill="#c8f020" d="M627.9 103.3L627.9 102.8L627.4 102.8L626.9 103L626.7 103.6L626.8 104.2L627.3 104Z"/><path fill="#ffb41a" d="M630.7 154.3L626.5 146.7L619.8 137.2L614.8 130.2L618.3 138.4L623.8 148.6L629.4 155.3ZM630.9 144.6L627.8 139.5L622.8 133.4L618.9 128.9L621.4 134.5L625.5 141.3L629.7 145.5ZM630.8 135.7L628.5 131.8L624.5 127.3L621.3 124L623.3 128.3L626.5 133.5L629.9 136.5ZM630.7 127.6L628.9 124.6L625.8 121.2L623.3 118.8L624.7 122.1L627.1 126.1L629.8 128.3ZM630.2 120.3L629.1 118.3L626.9 116.4L625 115.2L625.9 117.3L627.6 119.8L629.5 121ZM629.6 113.8L629.1 112.6L627.7 111.7L626.4 111.2L626.9 112.6L627.7 114.1L629 114.5ZM628.8 108.2L628.6 107.3L627.7 107L626.9 106.9L627 107.9L627.4 108.8L628.2 108.9ZM628 103.8L628.5 103.7L628.2 103.3L627.7 102.9L627.1 103L626.7 103.2L627.1 103.6Z"/><path fill="#ff8a1a" d="M630.7 155.3L635.7 149.2L640.5 139.9L643.4 132.4L638.9 138.8L633 147.4L629.4 154.3ZM630.9 145.4L634.7 141.1L638.1 134.2L640.1 128.7L636.7 133.2L632.3 139.5L629.7 144.6ZM630.9 136.4L633.7 133.1L636 127.7L637.2 123.3L634.7 126.8L631.5 131.7L629.8 135.7ZM630.7 128.2L632.5 125.8L633.5 121.9L633.8 118.8L632.2 121.3L630.4 124.8L629.7 127.7ZM630.3 120.9L631.7 119.4L632.3 116.8L632.4 114.7L631.2 116.2L629.8 118.4L629.4 120.4ZM629.7 114.4L630.7 113.5L631 111.8L630.9 110.4L629.9 111.3L628.9 112.6L628.8 113.9ZM629 108.7L629.6 108.3L629.5 107.4L629.2 106.6L628.5 107L627.9 107.6L628.1 108.3Z"/><path fill="#ffc01a" d="M627.7 103.5L627.7 103.2L627.4 103.1L627.1 103.2L627 103.6L627.1 103.9L627.4 103.9Z"/><path fill="#ff5a1a" d="M630.4 154.5L627.4 149.4L622.9 142.8L619.6 137.9L622.1 143.4L626 150.4L629.7 155ZM630.6 144.8L628.4 141.3L625 137.1L622.5 133.9L624.3 137.7L627.2 142.3L630 145.3ZM630.6 135.9L628.9 133.2L626.2 130.1L624.2 127.8L625.6 130.7L627.9 134.1L630.1 136.3ZM630.4 127.8L629.2 125.7L627.1 123.4L625.5 121.7L626.5 123.9L628.2 126.6L630 128.2ZM630.1 120.4L629.2 119.2L627.7 117.8L626.5 116.9L627.2 118.3L628.4 120L629.6 120.9ZM629.5 114L629 113.2L628.1 112.5L627.3 112.1L627.7 113L628.3 114L629.1 114.4ZM628.7 108.3L628.5 107.8L627.9 107.5L627.4 107.4L627.5 108L627.9 108.6L628.4 108.7ZM627.8 103.7L628.1 103.6L627.9 103.4L627.7 103.1L627.4 103.2L627.1 103.4L627.3 103.6Z"/><path fill="#ff3a1a" d="M630.4 155L633.7 150.8L637.1 144.4L639.2 139.4L636.3 143.9L632.3 149.8L629.7 154.6ZM630.6 145.2L633.1 142.2L635.5 137.5L637 133.8L634.8 137L631.8 141.3L630 144.8ZM630.7 136.3L632.5 133.9L634.1 130.2L635.1 127.3L633.4 129.8L631.3 133.2L630.1 135.9ZM630.5 128.1L631.6 126.4L632.4 123.7L632.7 121.7L631.7 123.4L630.5 125.8L629.9 127.8ZM630.1 120.8L631 119.7L631.5 118L631.6 116.6L630.8 117.7L629.9 119.2L629.6 120.5ZM629.5 114.3L630.1 113.6L630.4 112.5L630.4 111.6L629.8 112.2L629.2 113.2L629.1 114.1ZM628.8 108.6L629.2 108.3L629.1 107.7L629 107.2L628.6 107.5L628.2 107.9L628.3 108.4Z"/><polyline points="629.9,158.8 630.2,149 630.4,140 630.3,131.8 630.1,124.3 629.6,117.6 629,111.7 628.2,106.5 627.2,102.2 626,98.5 624.6,95.7" fill="none" stroke="#ff8a1a" stroke-width="0.6"/></g>
<g font-family='"Liberation Serif","Noto Serif CJK SC",serif' font-size="8" fill="#fff">
<text x="483.6" y="37.6">C1</text>
<text x="570.6" y="37.6">C2</text>
<text x="485.2" y="111.8">C3</text>
<text x="569.6" y="112.4">C4</text>
</g>
<defs><linearGradient id="cb" x1="0" y1="0" x2="0" y2="1"><stop offset="0" stop-color="#ff0000"/><stop offset="0.073" stop-color="#ff2000"/><stop offset="0.173" stop-color="#ff8000"/><stop offset="0.28" stop-color="#ffc800"/><stop offset="0.363" stop-color="#e8f000"/><stop offset="0.446" stop-color="#80e000"/><stop offset="0.53" stop-color="#10c810"/><stop offset="0.604" stop-color="#20d8a0"/><stop offset="0.67" stop-color="#60e0ff"/><stop offset="0.745" stop-color="#4090ff"/><stop offset="0.828" stop-color="#0000ff"/><stop offset="0.92" stop-color="#000070"/><stop offset="1" stop-color="#000008"/></linearGradient></defs>
<rect x="659" y="38.7" width="22.6" height="125.5" fill="#fff"/>
<path d="M681.5 38.7V163.4" stroke="#ddd" stroke-width="0.5"/>
<rect x="659.6" y="41.2" width="10.3" height="120.5" fill="url(#cb)"/>
<text x="670.2" y="34.7" text-anchor="middle" font-family='"Liberation Serif","Noto Serif CJK SC",serif' font-size="5.8" font-weight="bold" fill="#d4d4d4">Fv/Fm</text>
<g font-family='"Liberation Serif","Noto Serif CJK SC",serif' font-size="2.6" font-weight="bold" fill="#333">
<text x="672.8" y="50.6">0.8</text>
<text x="672.8" y="72.60000000000001">0.7</text>
<text x="672.8" y="94.60000000000001">0.6</text>
<text x="672.8" y="116.7">0.5</text>
<text x="672.8" y="138.8">0.4</text>
<text x="672.8" y="161.0">0.3</text>
</g>
<path d="M669.9 49.7h2.4M669.9 71.7h2.4M669.9 93.7h2.4M669.9 115.8h2.4M669.9 137.9h2.4M669.9 160.1h2.4M669.9 45.3h1.2M669.9 49.7h1.2M669.9 54.1h1.2M669.9 58.5h1.2M669.9 62.9h1.2M669.9 67.4h1.2M669.9 71.8h1.2M669.9 76.2h1.2M669.9 80.6h1.2M669.9 85h1.2M669.9 89.4h1.2M669.9 93.9h1.2M669.9 98.3h1.2M669.9 102.7h1.2M669.9 107.1h1.2M669.9 111.5h1.2M669.9 115.9h1.2M669.9 120.4h1.2M669.9 124.8h1.2M669.9 129.2h1.2M669.9 133.6h1.2M669.9 138h1.2M669.9 142.4h1.2M669.9 146.9h1.2M669.9 151.3h1.2M669.9 155.7h1.2M669.9 160.1h1.2" stroke="#555" stroke-width="0.35" fill="none"/>
</g>
<g id="panelC">
<rect x="513.3" y="259.13" width="18.1" height="81.47" fill="#c5c48e"/>
<path d="M522.65 259.13V256.5M519.45 256.5H525.85" stroke="#9a9a5e" stroke-width="0.9" fill="none"/>
<rect x="548.1" y="254.78" width="18" height="85.82" fill="#c5c48e"/>
<path d="M557.4 254.78V249.51M554.2 249.51H560.6" stroke="#9a9a5e" stroke-width="0.9" fill="none"/>
<rect x="582.7" y="247.1" width="17.8" height="93.5" fill="#c5c48e"/>
<path d="M591.9 247.1V239.42M588.7 239.42H595.1" stroke="#9a9a5e" stroke-width="0.9" fill="none"/>
<rect x="616.9" y="242.17" width="18.1" height="98.43" fill="#c5c48e"/>
<path d="M626.25 242.17V235.18M623.05 235.18H629.45" stroke="#9a9a5e" stroke-width="0.9" fill="none"/>
<rect x="496.1" y="203.1" width="173.4" height="137.5" fill="none" stroke="#444" stroke-width="0.75"/>
<path d="M496.1 317.68H499.1M496.1 294.77H499.1M496.1 271.85H499.1M496.1 248.93H499.1M496.1 226.02H499.1" stroke="#555" stroke-width="0.7" fill="none"/>
<g font-family='"Liberation Serif","Noto Serif CJK SC",serif' font-size="8" fill="#111">
<text x="492.5" y="343.3" text-anchor="end">0.0</text>
<text x="492.5" y="320.38" text-anchor="end">0.2</text>
<text x="492.5" y="297.47" text-anchor="end">0.4</text>
<text x="492.5" y="274.55" text-anchor="end">0.6</text>
<text x="492.5" y="251.63" text-anchor="end">0.8</text>
<text x="492.5" y="228.72" text-anchor="end">1.0</text>
<text x="492.5" y="205.8" text-anchor="end">1.2</text>
<text x="530.85" y="352.2" text-anchor="middle">C1</text>
<text x="565.6" y="352.2" text-anchor="middle">C2</text>
<text x="600.1" y="352.2" text-anchor="middle">C3</text>
<text x="634.45" y="352.2" text-anchor="middle">C4</text>
</g>
<text transform="translate(479.6,275) rotate(-90)" text-anchor="middle" font-family='"Liberation Serif","Noto Serif CJK SC",serif' font-size="8" fill="#111">Fv / Fm</text>
<g font-family='"Liberation Sans","Noto Sans CJK SC",sans-serif' font-size="8" fill="#111" stroke="#111" stroke-width="0.25" text-anchor="middle">
<text x="524.5" y="252.2">c</text>
<text x="553.2" y="244.6">b</text>
<text x="595.6" y="234.1">ab</text>
<text x="628" y="228.1">a</text>
</g></g>
</svg>
</body></html>
